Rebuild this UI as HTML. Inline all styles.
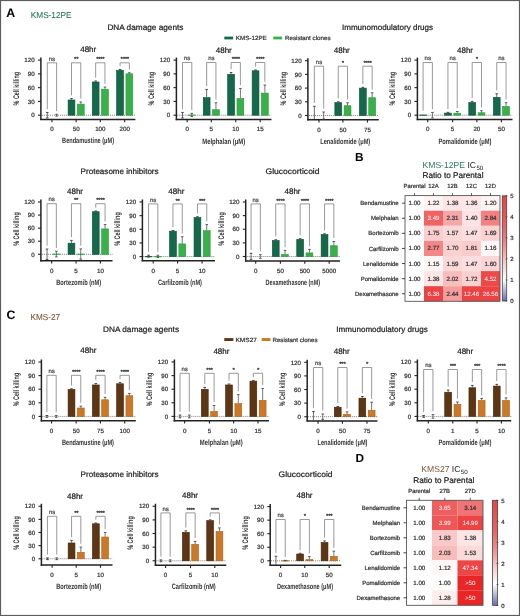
<!DOCTYPE html>
<html><head><meta charset="utf-8"><style>
html,body{margin:0;padding:0;background:#fff;}
body{width:520px;height:616px;overflow:hidden;}
svg{display:block;font-family:"Liberation Sans", sans-serif;will-change:transform;text-rendering:geometricPrecision;}
</style></head><body>
<svg width="520" height="616" viewBox="0 0 520 616">
<rect x="0" y="0" width="520" height="616" fill="#fff"/>
<line x1="40.90" y1="57.60" x2="40.90" y2="120.10" stroke="#222" stroke-width="1.5" />
<line x1="38.00" y1="115.20" x2="40.90" y2="115.20" stroke="#222" stroke-width="1.1" />
<text x="34.70" y="117.40" font-size="6.2" text-anchor="end" fill="#333" stroke="#333" stroke-width="0.22" >0</text>
<line x1="38.00" y1="101.42" x2="40.90" y2="101.42" stroke="#222" stroke-width="1.1" />
<text x="34.70" y="103.62" font-size="6.2" text-anchor="end" fill="#333" stroke="#333" stroke-width="0.22" >30</text>
<line x1="38.00" y1="87.65" x2="40.90" y2="87.65" stroke="#222" stroke-width="1.1" />
<text x="34.70" y="89.85" font-size="6.2" text-anchor="end" fill="#333" stroke="#333" stroke-width="0.22" >60</text>
<line x1="38.00" y1="73.88" x2="40.90" y2="73.88" stroke="#222" stroke-width="1.1" />
<text x="34.70" y="76.08" font-size="6.2" text-anchor="end" fill="#333" stroke="#333" stroke-width="0.22" >90</text>
<line x1="38.00" y1="60.10" x2="40.90" y2="60.10" stroke="#222" stroke-width="1.1" />
<text x="34.70" y="62.30" font-size="6.2" text-anchor="end" fill="#333" stroke="#333" stroke-width="0.22" >120</text>
<line x1="40.20" y1="119.40" x2="135.40" y2="119.40" stroke="#222" stroke-width="1.5" />
<line x1="41.90" y1="115.20" x2="135.40" y2="115.20" stroke="#333" stroke-width="0.7" stroke-dasharray="0.9 1.1"/>
<line x1="51.95" y1="119.40" x2="51.95" y2="122.20" stroke="#222" stroke-width="1.1" />
<text x="51.95" y="131.20" font-size="6.2" text-anchor="middle" fill="#333" stroke="#333" stroke-width="0.22" >0</text>
<line x1="47.30" y1="112.45" x2="47.30" y2="117.95" stroke="#3a3a3a" stroke-width="0.75" />
<line x1="46.00" y1="112.45" x2="48.60" y2="112.45" stroke="#3a3a3a" stroke-width="0.9" />
<line x1="46.00" y1="117.95" x2="48.60" y2="117.95" stroke="#3a3a3a" stroke-width="0.9" />
<line x1="56.60" y1="114.28" x2="56.60" y2="116.12" stroke="#4a4a4a" stroke-width="0.75" />
<line x1="55.30" y1="114.28" x2="57.90" y2="114.28" stroke="#4a4a4a" stroke-width="0.9" />
<line x1="55.30" y1="116.12" x2="57.90" y2="116.12" stroke="#4a4a4a" stroke-width="0.9" />
<path d="M47.30 109.15 V62.80 H56.60 V110.98" fill="none" stroke="#808080" stroke-width="0.8"/>
<text x="51.95" y="60.50" font-size="6.0" text-anchor="middle" fill="#444" stroke="#444" stroke-width="0.22" >ns</text>
<line x1="76.15" y1="119.40" x2="76.15" y2="122.20" stroke="#222" stroke-width="1.1" />
<text x="76.15" y="131.20" font-size="6.2" text-anchor="middle" fill="#333" stroke="#333" stroke-width="0.22" >50</text>
<rect x="68.10" y="99.98" width="6.80" height="15.22" fill="#15694b" stroke="#0c4c36" stroke-width="0.6"/>
<rect x="77.40" y="104.11" width="6.80" height="11.09" fill="#38b14a" stroke="#2a973a" stroke-width="0.6"/>
<line x1="71.50" y1="98.58" x2="71.50" y2="99.68" stroke="#3a3a3a" stroke-width="0.75" />
<line x1="70.20" y1="98.58" x2="72.80" y2="98.58" stroke="#3a3a3a" stroke-width="0.9" />
<line x1="80.80" y1="101.98" x2="80.80" y2="103.81" stroke="#4a4a4a" stroke-width="0.75" />
<line x1="79.50" y1="101.98" x2="82.10" y2="101.98" stroke="#4a4a4a" stroke-width="0.9" />
<path d="M71.50 95.28 V62.80 H80.80 V98.68" fill="none" stroke="#808080" stroke-width="0.8"/>
<text x="76.15" y="61.40" font-size="6.2" text-anchor="middle" fill="#333" stroke="#333" stroke-width="0.22" letter-spacing="-0.35">**</text>
<line x1="100.30" y1="119.40" x2="100.30" y2="122.20" stroke="#222" stroke-width="1.1" />
<text x="100.30" y="131.20" font-size="6.2" text-anchor="middle" fill="#333" stroke="#333" stroke-width="0.22" >100</text>
<rect x="92.25" y="81.98" width="6.80" height="33.22" fill="#15694b" stroke="#0c4c36" stroke-width="0.6"/>
<rect x="101.55" y="89.19" width="6.80" height="26.01" fill="#38b14a" stroke="#2a973a" stroke-width="0.6"/>
<line x1="95.65" y1="80.99" x2="95.65" y2="81.68" stroke="#3a3a3a" stroke-width="0.75" />
<line x1="94.35" y1="80.99" x2="96.95" y2="80.99" stroke="#3a3a3a" stroke-width="0.9" />
<line x1="104.95" y1="87.10" x2="104.95" y2="88.89" stroke="#4a4a4a" stroke-width="0.75" />
<line x1="103.65" y1="87.10" x2="106.25" y2="87.10" stroke="#4a4a4a" stroke-width="0.9" />
<path d="M95.65 77.69 V62.80 H104.95 V83.80" fill="none" stroke="#808080" stroke-width="0.8"/>
<text x="100.30" y="61.40" font-size="6.2" text-anchor="middle" fill="#333" stroke="#333" stroke-width="0.22" letter-spacing="-0.35">****</text>
<line x1="124.70" y1="119.40" x2="124.70" y2="122.20" stroke="#222" stroke-width="1.1" />
<text x="124.70" y="131.20" font-size="6.2" text-anchor="middle" fill="#333" stroke="#333" stroke-width="0.22" >200</text>
<rect x="116.65" y="70.27" width="6.80" height="44.93" fill="#15694b" stroke="#0c4c36" stroke-width="0.6"/>
<rect x="125.95" y="73.81" width="6.80" height="41.39" fill="#38b14a" stroke="#2a973a" stroke-width="0.6"/>
<line x1="120.05" y1="69.51" x2="120.05" y2="69.97" stroke="#3a3a3a" stroke-width="0.75" />
<line x1="118.75" y1="69.51" x2="121.35" y2="69.51" stroke="#3a3a3a" stroke-width="0.9" />
<line x1="129.35" y1="72.77" x2="129.35" y2="73.51" stroke="#4a4a4a" stroke-width="0.75" />
<line x1="128.05" y1="72.77" x2="130.65" y2="72.77" stroke="#4a4a4a" stroke-width="0.9" />
<path d="M120.05 66.21 V62.80 H129.35 V69.47" fill="none" stroke="#808080" stroke-width="0.8"/>
<text x="124.70" y="61.40" font-size="6.2" text-anchor="middle" fill="#333" stroke="#333" stroke-width="0.22" letter-spacing="-0.35">****</text>
<text x="88.20" y="52.30" font-size="8" text-anchor="middle" fill="#222" stroke="#222" stroke-width="0.22" >48hr</text>
<text x="88.10" y="142.60" font-size="7.8" text-anchor="middle" fill="#333" font-weight="bold" textLength="52" lengthAdjust="spacingAndGlyphs" >Bendamustine (μM)</text>
<text x="18.80" y="88.70" font-size="8.1" text-anchor="middle" fill="#333" font-weight="bold" textLength="33.5" lengthAdjust="spacingAndGlyphs" transform="rotate(-90 18.80 88.70)" >% Cell killing</text>
<line x1="176.40" y1="57.60" x2="176.40" y2="120.20" stroke="#222" stroke-width="1.5" />
<line x1="173.50" y1="115.20" x2="176.40" y2="115.20" stroke="#222" stroke-width="1.1" />
<text x="170.20" y="117.40" font-size="6.2" text-anchor="end" fill="#333" stroke="#333" stroke-width="0.22" >0</text>
<line x1="173.50" y1="101.42" x2="176.40" y2="101.42" stroke="#222" stroke-width="1.1" />
<text x="170.20" y="103.62" font-size="6.2" text-anchor="end" fill="#333" stroke="#333" stroke-width="0.22" >30</text>
<line x1="173.50" y1="87.65" x2="176.40" y2="87.65" stroke="#222" stroke-width="1.1" />
<text x="170.20" y="89.85" font-size="6.2" text-anchor="end" fill="#333" stroke="#333" stroke-width="0.22" >60</text>
<line x1="173.50" y1="73.88" x2="176.40" y2="73.88" stroke="#222" stroke-width="1.1" />
<text x="170.20" y="76.08" font-size="6.2" text-anchor="end" fill="#333" stroke="#333" stroke-width="0.22" >90</text>
<line x1="173.50" y1="60.10" x2="176.40" y2="60.10" stroke="#222" stroke-width="1.1" />
<text x="170.20" y="62.30" font-size="6.2" text-anchor="end" fill="#333" stroke="#333" stroke-width="0.22" >120</text>
<line x1="175.70" y1="119.50" x2="271.50" y2="119.50" stroke="#222" stroke-width="1.5" />
<line x1="177.40" y1="115.20" x2="271.50" y2="115.20" stroke="#333" stroke-width="0.7" stroke-dasharray="0.9 1.1"/>
<line x1="187.15" y1="119.50" x2="187.15" y2="122.30" stroke="#222" stroke-width="1.1" />
<text x="187.15" y="131.30" font-size="6.2" text-anchor="middle" fill="#333" stroke="#333" stroke-width="0.22" >0</text>
<rect x="188.10" y="114.60" width="7.40" height="1.20" fill="#38b14a" />
<line x1="182.50" y1="112.45" x2="182.50" y2="117.95" stroke="#3a3a3a" stroke-width="0.75" />
<line x1="181.20" y1="112.45" x2="183.80" y2="112.45" stroke="#3a3a3a" stroke-width="0.9" />
<line x1="181.20" y1="117.95" x2="183.80" y2="117.95" stroke="#3a3a3a" stroke-width="0.9" />
<line x1="191.80" y1="113.36" x2="191.80" y2="116.58" stroke="#4a4a4a" stroke-width="0.75" />
<line x1="190.50" y1="113.36" x2="193.10" y2="113.36" stroke="#4a4a4a" stroke-width="0.9" />
<line x1="190.50" y1="116.58" x2="193.10" y2="116.58" stroke="#4a4a4a" stroke-width="0.9" />
<path d="M182.50 109.15 V62.50 H191.80 V110.06" fill="none" stroke="#808080" stroke-width="0.8"/>
<text x="187.15" y="60.20" font-size="6.0" text-anchor="middle" fill="#444" stroke="#444" stroke-width="0.22" >ns</text>
<line x1="211.30" y1="119.50" x2="211.30" y2="122.30" stroke="#222" stroke-width="1.1" />
<text x="211.30" y="131.30" font-size="6.2" text-anchor="middle" fill="#333" stroke="#333" stroke-width="0.22" >5</text>
<rect x="203.25" y="97.68" width="6.80" height="17.52" fill="#15694b" stroke="#0c4c36" stroke-width="0.6"/>
<rect x="212.55" y="109.71" width="6.80" height="5.49" fill="#38b14a" stroke="#2a973a" stroke-width="0.6"/>
<line x1="206.65" y1="89.39" x2="206.65" y2="97.38" stroke="#3a3a3a" stroke-width="0.75" />
<line x1="205.35" y1="89.39" x2="207.95" y2="89.39" stroke="#3a3a3a" stroke-width="0.9" />
<line x1="215.95" y1="102.80" x2="215.95" y2="109.41" stroke="#4a4a4a" stroke-width="0.75" />
<line x1="214.65" y1="102.80" x2="217.25" y2="102.80" stroke="#4a4a4a" stroke-width="0.9" />
<path d="M206.65 86.09 V62.50 H215.95 V99.50" fill="none" stroke="#808080" stroke-width="0.8"/>
<text x="211.30" y="60.20" font-size="6.0" text-anchor="middle" fill="#444" stroke="#444" stroke-width="0.22" >ns</text>
<line x1="235.75" y1="119.50" x2="235.75" y2="122.30" stroke="#222" stroke-width="1.1" />
<text x="235.75" y="131.30" font-size="6.2" text-anchor="middle" fill="#333" stroke="#333" stroke-width="0.22" >10</text>
<rect x="227.70" y="74.27" width="6.80" height="40.93" fill="#15694b" stroke="#0c4c36" stroke-width="0.6"/>
<rect x="237.00" y="98.51" width="6.80" height="16.69" fill="#38b14a" stroke="#2a973a" stroke-width="0.6"/>
<line x1="231.10" y1="72.50" x2="231.10" y2="73.97" stroke="#3a3a3a" stroke-width="0.75" />
<line x1="229.80" y1="72.50" x2="232.40" y2="72.50" stroke="#3a3a3a" stroke-width="0.9" />
<line x1="240.40" y1="88.48" x2="240.40" y2="98.21" stroke="#4a4a4a" stroke-width="0.75" />
<line x1="239.10" y1="88.48" x2="241.70" y2="88.48" stroke="#4a4a4a" stroke-width="0.9" />
<path d="M231.10 69.20 V62.50 H240.40 V85.18" fill="none" stroke="#808080" stroke-width="0.8"/>
<text x="235.75" y="61.10" font-size="6.2" text-anchor="middle" fill="#333" stroke="#333" stroke-width="0.22" letter-spacing="-0.35">****</text>
<line x1="260.20" y1="119.50" x2="260.20" y2="122.30" stroke="#222" stroke-width="1.1" />
<text x="260.20" y="131.30" font-size="6.2" text-anchor="middle" fill="#333" stroke="#333" stroke-width="0.22" >15</text>
<rect x="252.15" y="70.78" width="6.80" height="44.42" fill="#15694b" stroke="#0c4c36" stroke-width="0.6"/>
<rect x="261.45" y="93.09" width="6.80" height="22.11" fill="#38b14a" stroke="#2a973a" stroke-width="0.6"/>
<line x1="255.55" y1="69.97" x2="255.55" y2="70.48" stroke="#3a3a3a" stroke-width="0.75" />
<line x1="254.25" y1="69.97" x2="256.85" y2="69.97" stroke="#3a3a3a" stroke-width="0.9" />
<line x1="264.85" y1="85.08" x2="264.85" y2="92.79" stroke="#4a4a4a" stroke-width="0.75" />
<line x1="263.55" y1="85.08" x2="266.15" y2="85.08" stroke="#4a4a4a" stroke-width="0.9" />
<path d="M255.55 66.67 V62.50 H264.85 V81.78" fill="none" stroke="#808080" stroke-width="0.8"/>
<text x="260.20" y="61.10" font-size="6.2" text-anchor="middle" fill="#333" stroke="#333" stroke-width="0.22" letter-spacing="-0.35">****</text>
<text x="223.75" y="52.60" font-size="8" text-anchor="middle" fill="#222" stroke="#222" stroke-width="0.22" >48hr</text>
<text x="223.75" y="143.60" font-size="7.8" text-anchor="middle" fill="#333" font-weight="bold" textLength="43" lengthAdjust="spacingAndGlyphs" >Melphalan (μM)</text>
<text x="154.30" y="88.70" font-size="8.1" text-anchor="middle" fill="#333" font-weight="bold" textLength="33.5" lengthAdjust="spacingAndGlyphs" transform="rotate(-90 154.30 88.70)" >% Cell killing</text>
<line x1="307.90" y1="58.20" x2="307.90" y2="120.50" stroke="#222" stroke-width="1.5" />
<line x1="305.00" y1="115.50" x2="307.90" y2="115.50" stroke="#222" stroke-width="1.1" />
<text x="301.70" y="117.70" font-size="6.2" text-anchor="end" fill="#333" stroke="#333" stroke-width="0.22" >0</text>
<line x1="305.00" y1="101.80" x2="307.90" y2="101.80" stroke="#222" stroke-width="1.1" />
<text x="301.70" y="104.00" font-size="6.2" text-anchor="end" fill="#333" stroke="#333" stroke-width="0.22" >30</text>
<line x1="305.00" y1="88.10" x2="307.90" y2="88.10" stroke="#222" stroke-width="1.1" />
<text x="301.70" y="90.30" font-size="6.2" text-anchor="end" fill="#333" stroke="#333" stroke-width="0.22" >60</text>
<line x1="305.00" y1="74.40" x2="307.90" y2="74.40" stroke="#222" stroke-width="1.1" />
<text x="301.70" y="76.60" font-size="6.2" text-anchor="end" fill="#333" stroke="#333" stroke-width="0.22" >90</text>
<line x1="305.00" y1="60.70" x2="307.90" y2="60.70" stroke="#222" stroke-width="1.1" />
<text x="301.70" y="62.90" font-size="6.2" text-anchor="end" fill="#333" stroke="#333" stroke-width="0.22" >120</text>
<line x1="307.20" y1="119.80" x2="378.75" y2="119.80" stroke="#222" stroke-width="1.5" />
<line x1="308.90" y1="115.50" x2="378.75" y2="115.50" stroke="#333" stroke-width="0.7" stroke-dasharray="0.9 1.1"/>
<line x1="319.00" y1="119.80" x2="319.00" y2="122.60" stroke="#222" stroke-width="1.1" />
<text x="319.00" y="131.60" font-size="6.2" text-anchor="middle" fill="#333" stroke="#333" stroke-width="0.22" >0</text>
<line x1="314.35" y1="106.32" x2="314.35" y2="119.20" stroke="#3a3a3a" stroke-width="0.75" />
<line x1="313.05" y1="106.32" x2="315.65" y2="106.32" stroke="#3a3a3a" stroke-width="0.9" />
<line x1="323.65" y1="111.98" x2="323.65" y2="119.02" stroke="#4a4a4a" stroke-width="0.75" />
<line x1="322.35" y1="111.98" x2="324.95" y2="111.98" stroke="#4a4a4a" stroke-width="0.9" />
<line x1="322.35" y1="119.02" x2="324.95" y2="119.02" stroke="#4a4a4a" stroke-width="0.9" />
<path d="M314.35 103.02 V66.20 H323.65 V108.68" fill="none" stroke="#808080" stroke-width="0.8"/>
<text x="319.00" y="63.90" font-size="6.0" text-anchor="middle" fill="#444" stroke="#444" stroke-width="0.22" >ns</text>
<line x1="342.90" y1="119.80" x2="342.90" y2="122.60" stroke="#222" stroke-width="1.1" />
<text x="342.90" y="131.60" font-size="6.2" text-anchor="middle" fill="#333" stroke="#333" stroke-width="0.22" >50</text>
<rect x="334.85" y="102.60" width="6.80" height="12.90" fill="#15694b" stroke="#0c4c36" stroke-width="0.6"/>
<rect x="344.15" y="105.71" width="6.80" height="9.79" fill="#38b14a" stroke="#2a973a" stroke-width="0.6"/>
<line x1="338.25" y1="101.80" x2="338.25" y2="102.30" stroke="#3a3a3a" stroke-width="0.75" />
<line x1="336.95" y1="101.80" x2="339.55" y2="101.80" stroke="#3a3a3a" stroke-width="0.9" />
<line x1="347.55" y1="102.80" x2="347.55" y2="105.41" stroke="#4a4a4a" stroke-width="0.75" />
<line x1="346.25" y1="102.80" x2="348.85" y2="102.80" stroke="#4a4a4a" stroke-width="0.9" />
<path d="M338.25 98.50 V66.20 H347.55 V99.50" fill="none" stroke="#808080" stroke-width="0.8"/>
<text x="342.90" y="64.80" font-size="6.2" text-anchor="middle" fill="#333" stroke="#333" stroke-width="0.22" letter-spacing="-0.35">*</text>
<line x1="367.50" y1="119.80" x2="367.50" y2="122.60" stroke="#222" stroke-width="1.1" />
<text x="367.50" y="131.60" font-size="6.2" text-anchor="middle" fill="#333" stroke="#333" stroke-width="0.22" >75</text>
<rect x="359.45" y="88.13" width="6.80" height="27.37" fill="#15694b" stroke="#0c4c36" stroke-width="0.6"/>
<rect x="368.75" y="97.72" width="6.80" height="17.78" fill="#38b14a" stroke="#2a973a" stroke-width="0.6"/>
<line x1="362.85" y1="87.37" x2="362.85" y2="87.83" stroke="#3a3a3a" stroke-width="0.75" />
<line x1="361.55" y1="87.37" x2="364.15" y2="87.37" stroke="#3a3a3a" stroke-width="0.9" />
<line x1="372.15" y1="92.80" x2="372.15" y2="97.42" stroke="#4a4a4a" stroke-width="0.75" />
<line x1="370.85" y1="92.80" x2="373.45" y2="92.80" stroke="#4a4a4a" stroke-width="0.9" />
<path d="M362.85 84.07 V66.20 H372.15 V89.50" fill="none" stroke="#808080" stroke-width="0.8"/>
<text x="367.50" y="64.80" font-size="6.2" text-anchor="middle" fill="#333" stroke="#333" stroke-width="0.22" letter-spacing="-0.35">****</text>
<text x="341.75" y="52.60" font-size="8" text-anchor="middle" fill="#222" stroke="#222" stroke-width="0.22" >48hr</text>
<text x="345.25" y="143.80" font-size="7.8" text-anchor="middle" fill="#333" font-weight="bold" textLength="50" lengthAdjust="spacingAndGlyphs" >Lenalidomide (μM)</text>
<text x="285.80" y="88.70" font-size="8.1" text-anchor="middle" fill="#333" font-weight="bold" textLength="33.5" lengthAdjust="spacingAndGlyphs" transform="rotate(-90 285.80 88.70)" >% Cell killing</text>
<line x1="417.40" y1="57.60" x2="417.40" y2="120.20" stroke="#222" stroke-width="1.5" />
<line x1="414.50" y1="115.20" x2="417.40" y2="115.20" stroke="#222" stroke-width="1.1" />
<text x="411.20" y="117.40" font-size="6.2" text-anchor="end" fill="#333" stroke="#333" stroke-width="0.22" >0</text>
<line x1="414.50" y1="101.42" x2="417.40" y2="101.42" stroke="#222" stroke-width="1.1" />
<text x="411.20" y="103.62" font-size="6.2" text-anchor="end" fill="#333" stroke="#333" stroke-width="0.22" >30</text>
<line x1="414.50" y1="87.65" x2="417.40" y2="87.65" stroke="#222" stroke-width="1.1" />
<text x="411.20" y="89.85" font-size="6.2" text-anchor="end" fill="#333" stroke="#333" stroke-width="0.22" >60</text>
<line x1="414.50" y1="73.88" x2="417.40" y2="73.88" stroke="#222" stroke-width="1.1" />
<text x="411.20" y="76.08" font-size="6.2" text-anchor="end" fill="#333" stroke="#333" stroke-width="0.22" >90</text>
<line x1="414.50" y1="60.10" x2="417.40" y2="60.10" stroke="#222" stroke-width="1.1" />
<text x="411.20" y="62.30" font-size="6.2" text-anchor="end" fill="#333" stroke="#333" stroke-width="0.22" >120</text>
<line x1="416.70" y1="119.50" x2="512.50" y2="119.50" stroke="#222" stroke-width="1.5" />
<line x1="418.40" y1="115.20" x2="512.50" y2="115.20" stroke="#333" stroke-width="0.7" stroke-dasharray="0.9 1.1"/>
<line x1="427.75" y1="119.50" x2="427.75" y2="122.30" stroke="#222" stroke-width="1.1" />
<text x="427.75" y="131.30" font-size="6.2" text-anchor="middle" fill="#333" stroke="#333" stroke-width="0.22" >0</text>
<rect x="419.40" y="114.60" width="7.40" height="1.20" fill="#15694b" />
<line x1="432.40" y1="112.45" x2="432.40" y2="117.95" stroke="#4a4a4a" stroke-width="0.75" />
<line x1="431.10" y1="112.45" x2="433.70" y2="112.45" stroke="#4a4a4a" stroke-width="0.9" />
<line x1="431.10" y1="117.95" x2="433.70" y2="117.95" stroke="#4a4a4a" stroke-width="0.9" />
<path d="M423.10 110.75 V62.50 H432.40 V109.15" fill="none" stroke="#808080" stroke-width="0.8"/>
<text x="427.75" y="60.20" font-size="6.0" text-anchor="middle" fill="#444" stroke="#444" stroke-width="0.22" >ns</text>
<line x1="452.60" y1="119.50" x2="452.60" y2="122.30" stroke="#222" stroke-width="1.1" />
<text x="452.60" y="131.30" font-size="6.2" text-anchor="middle" fill="#333" stroke="#333" stroke-width="0.22" >5</text>
<rect x="444.55" y="113.11" width="6.80" height="2.09" fill="#15694b" stroke="#0c4c36" stroke-width="0.6"/>
<rect x="453.85" y="113.20" width="6.80" height="2.00" fill="#38b14a" stroke="#2a973a" stroke-width="0.6"/>
<line x1="447.95" y1="112.35" x2="447.95" y2="112.81" stroke="#3a3a3a" stroke-width="0.75" />
<line x1="446.65" y1="112.35" x2="449.25" y2="112.35" stroke="#3a3a3a" stroke-width="0.9" />
<line x1="457.25" y1="111.53" x2="457.25" y2="112.90" stroke="#4a4a4a" stroke-width="0.75" />
<line x1="455.95" y1="111.53" x2="458.55" y2="111.53" stroke="#4a4a4a" stroke-width="0.9" />
<path d="M447.95 109.05 V62.50 H457.25 V108.23" fill="none" stroke="#808080" stroke-width="0.8"/>
<text x="452.60" y="60.20" font-size="6.0" text-anchor="middle" fill="#444" stroke="#444" stroke-width="0.22" >ns</text>
<line x1="476.85" y1="119.50" x2="476.85" y2="122.30" stroke="#222" stroke-width="1.1" />
<text x="476.85" y="131.30" font-size="6.2" text-anchor="middle" fill="#333" stroke="#333" stroke-width="0.22" >20</text>
<rect x="468.80" y="102.51" width="6.80" height="12.69" fill="#15694b" stroke="#0c4c36" stroke-width="0.6"/>
<rect x="478.10" y="112.75" width="6.80" height="2.45" fill="#38b14a" stroke="#2a973a" stroke-width="0.6"/>
<line x1="472.20" y1="101.33" x2="472.20" y2="102.21" stroke="#3a3a3a" stroke-width="0.75" />
<line x1="470.90" y1="101.33" x2="473.50" y2="101.33" stroke="#3a3a3a" stroke-width="0.9" />
<line x1="481.50" y1="110.70" x2="481.50" y2="112.45" stroke="#4a4a4a" stroke-width="0.75" />
<line x1="480.20" y1="110.70" x2="482.80" y2="110.70" stroke="#4a4a4a" stroke-width="0.9" />
<path d="M472.20 98.03 V62.50 H481.50 V107.40" fill="none" stroke="#808080" stroke-width="0.8"/>
<text x="476.85" y="61.10" font-size="6.2" text-anchor="middle" fill="#333" stroke="#333" stroke-width="0.22" letter-spacing="-0.35">*</text>
<line x1="501.40" y1="119.50" x2="501.40" y2="122.30" stroke="#222" stroke-width="1.1" />
<text x="501.40" y="131.30" font-size="6.2" text-anchor="middle" fill="#333" stroke="#333" stroke-width="0.22" >50</text>
<rect x="493.35" y="97.32" width="6.80" height="17.88" fill="#15694b" stroke="#0c4c36" stroke-width="0.6"/>
<rect x="502.65" y="106.50" width="6.80" height="8.70" fill="#38b14a" stroke="#2a973a" stroke-width="0.6"/>
<line x1="496.75" y1="93.80" x2="496.75" y2="97.02" stroke="#3a3a3a" stroke-width="0.75" />
<line x1="495.45" y1="93.80" x2="498.05" y2="93.80" stroke="#3a3a3a" stroke-width="0.9" />
<line x1="506.05" y1="102.71" x2="506.05" y2="106.20" stroke="#4a4a4a" stroke-width="0.75" />
<line x1="504.75" y1="102.71" x2="507.35" y2="102.71" stroke="#4a4a4a" stroke-width="0.9" />
<path d="M496.75 90.50 V62.50 H506.05 V99.41" fill="none" stroke="#808080" stroke-width="0.8"/>
<text x="501.40" y="60.20" font-size="6.0" text-anchor="middle" fill="#444" stroke="#444" stroke-width="0.22" >ns</text>
<text x="465.00" y="52.60" font-size="8" text-anchor="middle" fill="#222" stroke="#222" stroke-width="0.22" >48hr</text>
<text x="465.00" y="143.60" font-size="7.8" text-anchor="middle" fill="#333" font-weight="bold" textLength="53" lengthAdjust="spacingAndGlyphs" >Pomalidomide (μM)</text>
<text x="395.30" y="88.70" font-size="8.1" text-anchor="middle" fill="#333" font-weight="bold" textLength="33.5" lengthAdjust="spacingAndGlyphs" transform="rotate(-90 395.30 88.70)" >% Cell killing</text>
<line x1="40.90" y1="199.50" x2="40.90" y2="261.40" stroke="#222" stroke-width="1.5" />
<line x1="38.00" y1="254.30" x2="40.90" y2="254.30" stroke="#222" stroke-width="1.1" />
<text x="34.70" y="256.50" font-size="6.2" text-anchor="end" fill="#333" stroke="#333" stroke-width="0.22" >0</text>
<line x1="38.00" y1="241.23" x2="40.90" y2="241.23" stroke="#222" stroke-width="1.1" />
<text x="34.70" y="243.43" font-size="6.2" text-anchor="end" fill="#333" stroke="#333" stroke-width="0.22" >30</text>
<line x1="38.00" y1="228.15" x2="40.90" y2="228.15" stroke="#222" stroke-width="1.1" />
<text x="34.70" y="230.35" font-size="6.2" text-anchor="end" fill="#333" stroke="#333" stroke-width="0.22" >60</text>
<line x1="38.00" y1="215.07" x2="40.90" y2="215.07" stroke="#222" stroke-width="1.1" />
<text x="34.70" y="217.27" font-size="6.2" text-anchor="end" fill="#333" stroke="#333" stroke-width="0.22" >90</text>
<line x1="38.00" y1="202.00" x2="40.90" y2="202.00" stroke="#222" stroke-width="1.1" />
<text x="34.70" y="204.20" font-size="6.2" text-anchor="end" fill="#333" stroke="#333" stroke-width="0.22" >120</text>
<line x1="40.20" y1="260.70" x2="112.50" y2="260.70" stroke="#222" stroke-width="1.5" />
<line x1="41.90" y1="254.30" x2="112.50" y2="254.30" stroke="#333" stroke-width="0.7" stroke-dasharray="0.9 1.1"/>
<line x1="51.70" y1="260.70" x2="51.70" y2="263.50" stroke="#222" stroke-width="1.1" />
<text x="51.70" y="272.50" font-size="6.2" text-anchor="middle" fill="#333" stroke="#333" stroke-width="0.22" >0</text>
<rect x="52.65" y="253.70" width="7.40" height="1.20" fill="#38b14a" />
<line x1="47.05" y1="249.07" x2="47.05" y2="259.53" stroke="#3a3a3a" stroke-width="0.75" />
<line x1="45.75" y1="249.07" x2="48.35" y2="249.07" stroke="#3a3a3a" stroke-width="0.9" />
<line x1="45.75" y1="259.53" x2="48.35" y2="259.53" stroke="#3a3a3a" stroke-width="0.9" />
<line x1="56.35" y1="251.25" x2="56.35" y2="256.83" stroke="#4a4a4a" stroke-width="0.75" />
<line x1="55.05" y1="251.25" x2="57.65" y2="251.25" stroke="#4a4a4a" stroke-width="0.9" />
<line x1="55.05" y1="256.83" x2="57.65" y2="256.83" stroke="#4a4a4a" stroke-width="0.9" />
<path d="M47.05 245.77 V203.70 H56.35 V247.95" fill="none" stroke="#808080" stroke-width="0.8"/>
<text x="51.70" y="201.40" font-size="6.0" text-anchor="middle" fill="#444" stroke="#444" stroke-width="0.22" >ns</text>
<line x1="76.10" y1="260.70" x2="76.10" y2="263.50" stroke="#222" stroke-width="1.1" />
<text x="76.10" y="272.50" font-size="6.2" text-anchor="middle" fill="#333" stroke="#333" stroke-width="0.22" >5</text>
<rect x="68.05" y="243.18" width="6.80" height="11.12" fill="#15694b" stroke="#0c4c36" stroke-width="0.6"/>
<rect x="77.05" y="253.70" width="7.40" height="1.20" fill="#38b14a" />
<line x1="71.45" y1="240.40" x2="71.45" y2="242.88" stroke="#3a3a3a" stroke-width="0.75" />
<line x1="70.15" y1="240.40" x2="72.75" y2="240.40" stroke="#3a3a3a" stroke-width="0.9" />
<line x1="80.75" y1="248.90" x2="80.75" y2="259.18" stroke="#4a4a4a" stroke-width="0.75" />
<line x1="79.45" y1="248.90" x2="82.05" y2="248.90" stroke="#4a4a4a" stroke-width="0.9" />
<line x1="79.45" y1="259.18" x2="82.05" y2="259.18" stroke="#4a4a4a" stroke-width="0.9" />
<path d="M71.45 237.10 V203.70 H80.75 V245.60" fill="none" stroke="#808080" stroke-width="0.8"/>
<text x="76.10" y="202.30" font-size="6.2" text-anchor="middle" fill="#333" stroke="#333" stroke-width="0.22" letter-spacing="-0.35">**</text>
<line x1="100.40" y1="260.70" x2="100.40" y2="263.50" stroke="#222" stroke-width="1.1" />
<text x="100.40" y="272.50" font-size="6.2" text-anchor="middle" fill="#333" stroke="#333" stroke-width="0.22" >10</text>
<rect x="92.35" y="211.71" width="6.80" height="42.59" fill="#15694b" stroke="#0c4c36" stroke-width="0.6"/>
<rect x="101.65" y="228.89" width="6.80" height="25.41" fill="#38b14a" stroke="#2a973a" stroke-width="0.6"/>
<line x1="95.75" y1="210.98" x2="95.75" y2="211.41" stroke="#3a3a3a" stroke-width="0.75" />
<line x1="94.45" y1="210.98" x2="97.05" y2="210.98" stroke="#3a3a3a" stroke-width="0.9" />
<line x1="105.05" y1="224.58" x2="105.05" y2="228.59" stroke="#4a4a4a" stroke-width="0.75" />
<line x1="103.75" y1="224.58" x2="106.35" y2="224.58" stroke="#4a4a4a" stroke-width="0.9" />
<path d="M95.75 207.68 V203.70 H105.05 V221.28" fill="none" stroke="#808080" stroke-width="0.8"/>
<text x="100.40" y="202.30" font-size="6.2" text-anchor="middle" fill="#333" stroke="#333" stroke-width="0.22" letter-spacing="-0.35">****</text>
<text x="75.00" y="193.50" font-size="8" text-anchor="middle" fill="#222" stroke="#222" stroke-width="0.22" >48hr</text>
<text x="78.75" y="284.50" font-size="7.8" text-anchor="middle" fill="#333" font-weight="bold" textLength="45" lengthAdjust="spacingAndGlyphs" >Bortezomib (nM)</text>
<text x="18.80" y="229.00" font-size="8.1" text-anchor="middle" fill="#333" font-weight="bold" textLength="33.5" lengthAdjust="spacingAndGlyphs" transform="rotate(-90 18.80 229.00)" >% Cell killing</text>
<line x1="142.40" y1="199.50" x2="142.40" y2="261.40" stroke="#222" stroke-width="1.5" />
<line x1="139.50" y1="256.60" x2="142.40" y2="256.60" stroke="#222" stroke-width="1.1" />
<text x="136.20" y="258.80" font-size="6.2" text-anchor="end" fill="#333" stroke="#333" stroke-width="0.22" >0</text>
<line x1="139.50" y1="242.95" x2="142.40" y2="242.95" stroke="#222" stroke-width="1.1" />
<text x="136.20" y="245.15" font-size="6.2" text-anchor="end" fill="#333" stroke="#333" stroke-width="0.22" >30</text>
<line x1="139.50" y1="229.30" x2="142.40" y2="229.30" stroke="#222" stroke-width="1.1" />
<text x="136.20" y="231.50" font-size="6.2" text-anchor="end" fill="#333" stroke="#333" stroke-width="0.22" >60</text>
<line x1="139.50" y1="215.65" x2="142.40" y2="215.65" stroke="#222" stroke-width="1.1" />
<text x="136.20" y="217.85" font-size="6.2" text-anchor="end" fill="#333" stroke="#333" stroke-width="0.22" >90</text>
<line x1="139.50" y1="202.00" x2="142.40" y2="202.00" stroke="#222" stroke-width="1.1" />
<text x="136.20" y="204.20" font-size="6.2" text-anchor="end" fill="#333" stroke="#333" stroke-width="0.22" >120</text>
<line x1="141.70" y1="260.70" x2="215.00" y2="260.70" stroke="#222" stroke-width="1.5" />
<line x1="143.40" y1="256.60" x2="215.00" y2="256.60" stroke="#333" stroke-width="0.7" stroke-dasharray="0.9 1.1"/>
<line x1="153.20" y1="260.70" x2="153.20" y2="263.50" stroke="#222" stroke-width="1.1" />
<text x="153.20" y="272.50" font-size="6.2" text-anchor="middle" fill="#333" stroke="#333" stroke-width="0.22" >0</text>
<rect x="144.85" y="256.00" width="7.40" height="1.20" fill="#15694b" />
<rect x="154.15" y="256.00" width="7.40" height="1.20" fill="#38b14a" />
<line x1="148.55" y1="255.24" x2="148.55" y2="257.06" stroke="#3a3a3a" stroke-width="0.75" />
<line x1="147.25" y1="255.24" x2="149.85" y2="255.24" stroke="#3a3a3a" stroke-width="0.9" />
<line x1="147.25" y1="257.06" x2="149.85" y2="257.06" stroke="#3a3a3a" stroke-width="0.9" />
<line x1="157.85" y1="255.24" x2="157.85" y2="257.42" stroke="#4a4a4a" stroke-width="0.75" />
<line x1="156.55" y1="255.24" x2="159.15" y2="255.24" stroke="#4a4a4a" stroke-width="0.9" />
<line x1="156.55" y1="257.42" x2="159.15" y2="257.42" stroke="#4a4a4a" stroke-width="0.9" />
<path d="M148.55 251.94 V203.90 H157.85 V251.94" fill="none" stroke="#808080" stroke-width="0.8"/>
<text x="153.20" y="201.60" font-size="6.0" text-anchor="middle" fill="#444" stroke="#444" stroke-width="0.22" >ns</text>
<line x1="177.60" y1="260.70" x2="177.60" y2="263.50" stroke="#222" stroke-width="1.1" />
<text x="177.60" y="272.50" font-size="6.2" text-anchor="middle" fill="#333" stroke="#333" stroke-width="0.22" >5</text>
<rect x="169.55" y="231.19" width="6.80" height="25.41" fill="#15694b" stroke="#0c4c36" stroke-width="0.6"/>
<rect x="178.85" y="243.89" width="6.80" height="12.71" fill="#38b14a" stroke="#2a973a" stroke-width="0.6"/>
<line x1="172.95" y1="230.44" x2="172.95" y2="230.89" stroke="#3a3a3a" stroke-width="0.75" />
<line x1="171.65" y1="230.44" x2="174.25" y2="230.44" stroke="#3a3a3a" stroke-width="0.9" />
<line x1="182.25" y1="236.72" x2="182.25" y2="243.59" stroke="#4a4a4a" stroke-width="0.75" />
<line x1="180.95" y1="236.72" x2="183.55" y2="236.72" stroke="#4a4a4a" stroke-width="0.9" />
<path d="M172.95 227.14 V203.90 H182.25 V233.42" fill="none" stroke="#808080" stroke-width="0.8"/>
<text x="177.60" y="202.50" font-size="6.2" text-anchor="middle" fill="#333" stroke="#333" stroke-width="0.22" letter-spacing="-0.35">**</text>
<line x1="202.10" y1="260.70" x2="202.10" y2="263.50" stroke="#222" stroke-width="1.1" />
<text x="202.10" y="272.50" font-size="6.2" text-anchor="middle" fill="#333" stroke="#333" stroke-width="0.22" >10</text>
<rect x="194.05" y="217.50" width="6.80" height="39.10" fill="#15694b" stroke="#0c4c36" stroke-width="0.6"/>
<rect x="203.35" y="230.69" width="6.80" height="25.91" fill="#38b14a" stroke="#2a973a" stroke-width="0.6"/>
<line x1="197.45" y1="216.74" x2="197.45" y2="217.20" stroke="#3a3a3a" stroke-width="0.75" />
<line x1="196.15" y1="216.74" x2="198.75" y2="216.74" stroke="#3a3a3a" stroke-width="0.9" />
<line x1="206.75" y1="224.61" x2="206.75" y2="230.39" stroke="#4a4a4a" stroke-width="0.75" />
<line x1="205.45" y1="224.61" x2="208.05" y2="224.61" stroke="#4a4a4a" stroke-width="0.9" />
<path d="M197.45 213.44 V203.90 H206.75 V221.31" fill="none" stroke="#808080" stroke-width="0.8"/>
<text x="202.10" y="202.50" font-size="6.2" text-anchor="middle" fill="#333" stroke="#333" stroke-width="0.22" letter-spacing="-0.35">***</text>
<text x="176.30" y="194.00" font-size="8" text-anchor="middle" fill="#222" stroke="#222" stroke-width="0.22" >48hr</text>
<text x="180.00" y="284.50" font-size="7.8" text-anchor="middle" fill="#333" font-weight="bold" textLength="44" lengthAdjust="spacingAndGlyphs" >Carfilzomib (nM)</text>
<text x="120.30" y="229.00" font-size="8.1" text-anchor="middle" fill="#333" font-weight="bold" textLength="33.5" lengthAdjust="spacingAndGlyphs" transform="rotate(-90 120.30 229.00)" >% Cell killing</text>
<line x1="245.70" y1="199.50" x2="245.70" y2="261.60" stroke="#222" stroke-width="1.5" />
<line x1="242.80" y1="256.50" x2="245.70" y2="256.50" stroke="#222" stroke-width="1.1" />
<text x="239.50" y="258.70" font-size="6.2" text-anchor="end" fill="#333" stroke="#333" stroke-width="0.22" >0</text>
<line x1="242.80" y1="242.88" x2="245.70" y2="242.88" stroke="#222" stroke-width="1.1" />
<text x="239.50" y="245.07" font-size="6.2" text-anchor="end" fill="#333" stroke="#333" stroke-width="0.22" >30</text>
<line x1="242.80" y1="229.25" x2="245.70" y2="229.25" stroke="#222" stroke-width="1.1" />
<text x="239.50" y="231.45" font-size="6.2" text-anchor="end" fill="#333" stroke="#333" stroke-width="0.22" >60</text>
<line x1="242.80" y1="215.62" x2="245.70" y2="215.62" stroke="#222" stroke-width="1.1" />
<text x="239.50" y="217.82" font-size="6.2" text-anchor="end" fill="#333" stroke="#333" stroke-width="0.22" >90</text>
<line x1="242.80" y1="202.00" x2="245.70" y2="202.00" stroke="#222" stroke-width="1.1" />
<text x="239.50" y="204.20" font-size="6.2" text-anchor="end" fill="#333" stroke="#333" stroke-width="0.22" >120</text>
<line x1="245.00" y1="260.90" x2="340.00" y2="260.90" stroke="#222" stroke-width="1.5" />
<line x1="246.70" y1="256.50" x2="340.00" y2="256.50" stroke="#333" stroke-width="0.7" stroke-dasharray="0.9 1.1"/>
<line x1="255.70" y1="260.90" x2="255.70" y2="263.70" stroke="#222" stroke-width="1.1" />
<text x="255.70" y="272.70" font-size="6.2" text-anchor="middle" fill="#333" stroke="#333" stroke-width="0.22" >0</text>
<line x1="251.05" y1="253.32" x2="251.05" y2="259.68" stroke="#3a3a3a" stroke-width="0.75" />
<line x1="249.75" y1="253.32" x2="252.35" y2="253.32" stroke="#3a3a3a" stroke-width="0.9" />
<line x1="249.75" y1="259.68" x2="252.35" y2="259.68" stroke="#3a3a3a" stroke-width="0.9" />
<line x1="260.35" y1="254.68" x2="260.35" y2="258.32" stroke="#4a4a4a" stroke-width="0.75" />
<line x1="259.05" y1="254.68" x2="261.65" y2="254.68" stroke="#4a4a4a" stroke-width="0.9" />
<line x1="259.05" y1="258.32" x2="261.65" y2="258.32" stroke="#4a4a4a" stroke-width="0.9" />
<path d="M251.05 250.02 V203.90 H260.35 V251.38" fill="none" stroke="#808080" stroke-width="0.8"/>
<text x="255.70" y="201.60" font-size="6.0" text-anchor="middle" fill="#444" stroke="#444" stroke-width="0.22" >ns</text>
<line x1="280.40" y1="260.90" x2="280.40" y2="263.70" stroke="#222" stroke-width="1.1" />
<text x="280.40" y="272.70" font-size="6.2" text-anchor="middle" fill="#333" stroke="#333" stroke-width="0.22" >50</text>
<rect x="272.35" y="240.50" width="6.80" height="16.00" fill="#15694b" stroke="#0c4c36" stroke-width="0.6"/>
<rect x="281.65" y="254.53" width="6.80" height="1.97" fill="#38b14a" stroke="#2a973a" stroke-width="0.6"/>
<line x1="275.75" y1="239.74" x2="275.75" y2="240.20" stroke="#3a3a3a" stroke-width="0.75" />
<line x1="274.45" y1="239.74" x2="277.05" y2="239.74" stroke="#3a3a3a" stroke-width="0.9" />
<line x1="285.05" y1="250.41" x2="285.05" y2="254.23" stroke="#4a4a4a" stroke-width="0.75" />
<line x1="283.75" y1="250.41" x2="286.35" y2="250.41" stroke="#4a4a4a" stroke-width="0.9" />
<path d="M275.75 236.44 V203.90 H285.05 V247.11" fill="none" stroke="#808080" stroke-width="0.8"/>
<text x="280.40" y="202.50" font-size="6.2" text-anchor="middle" fill="#333" stroke="#333" stroke-width="0.22" letter-spacing="-0.35">****</text>
<line x1="304.80" y1="260.90" x2="304.80" y2="263.70" stroke="#222" stroke-width="1.1" />
<text x="304.80" y="272.70" font-size="6.2" text-anchor="middle" fill="#333" stroke="#333" stroke-width="0.22" >500</text>
<rect x="296.75" y="239.41" width="6.80" height="17.09" fill="#15694b" stroke="#0c4c36" stroke-width="0.6"/>
<rect x="306.05" y="252.89" width="6.80" height="3.61" fill="#38b14a" stroke="#2a973a" stroke-width="0.6"/>
<line x1="300.15" y1="238.65" x2="300.15" y2="239.11" stroke="#3a3a3a" stroke-width="0.75" />
<line x1="298.85" y1="238.65" x2="301.45" y2="238.65" stroke="#3a3a3a" stroke-width="0.9" />
<line x1="309.45" y1="249.41" x2="309.45" y2="252.59" stroke="#4a4a4a" stroke-width="0.75" />
<line x1="308.15" y1="249.41" x2="310.75" y2="249.41" stroke="#4a4a4a" stroke-width="0.9" />
<path d="M300.15 235.35 V203.90 H309.45 V246.11" fill="none" stroke="#808080" stroke-width="0.8"/>
<text x="304.80" y="202.50" font-size="6.2" text-anchor="middle" fill="#333" stroke="#333" stroke-width="0.22" letter-spacing="-0.35">****</text>
<line x1="329.20" y1="260.90" x2="329.20" y2="263.70" stroke="#222" stroke-width="1.1" />
<text x="329.20" y="272.70" font-size="6.2" text-anchor="middle" fill="#333" stroke="#333" stroke-width="0.22" >5000</text>
<rect x="321.15" y="234.55" width="6.80" height="21.95" fill="#15694b" stroke="#0c4c36" stroke-width="0.6"/>
<rect x="330.45" y="245.72" width="6.80" height="10.78" fill="#38b14a" stroke="#2a973a" stroke-width="0.6"/>
<line x1="324.55" y1="233.79" x2="324.55" y2="234.25" stroke="#3a3a3a" stroke-width="0.75" />
<line x1="323.25" y1="233.79" x2="325.85" y2="233.79" stroke="#3a3a3a" stroke-width="0.9" />
<line x1="333.85" y1="241.51" x2="333.85" y2="245.42" stroke="#4a4a4a" stroke-width="0.75" />
<line x1="332.55" y1="241.51" x2="335.15" y2="241.51" stroke="#4a4a4a" stroke-width="0.9" />
<path d="M324.55 230.49 V203.90 H333.85 V238.21" fill="none" stroke="#808080" stroke-width="0.8"/>
<text x="329.20" y="202.50" font-size="6.2" text-anchor="middle" fill="#333" stroke="#333" stroke-width="0.22" letter-spacing="-0.35">****</text>
<text x="292.50" y="194.00" font-size="8" text-anchor="middle" fill="#222" stroke="#222" stroke-width="0.22" >48hr</text>
<text x="292.75" y="284.50" font-size="7.8" text-anchor="middle" fill="#333" font-weight="bold" textLength="54.5" lengthAdjust="spacingAndGlyphs" >Dexamethasone (nM)</text>
<text x="223.60" y="229.00" font-size="8.1" text-anchor="middle" fill="#333" font-weight="bold" textLength="33.5" lengthAdjust="spacingAndGlyphs" transform="rotate(-90 223.60 229.00)" >% Cell killing</text>
<line x1="41.40" y1="359.50" x2="41.40" y2="421.50" stroke="#222" stroke-width="1.5" />
<line x1="38.50" y1="416.40" x2="41.40" y2="416.40" stroke="#222" stroke-width="1.1" />
<text x="35.20" y="418.60" font-size="6.2" text-anchor="end" fill="#333" stroke="#333" stroke-width="0.22" >0</text>
<line x1="38.50" y1="402.80" x2="41.40" y2="402.80" stroke="#222" stroke-width="1.1" />
<text x="35.20" y="405.00" font-size="6.2" text-anchor="end" fill="#333" stroke="#333" stroke-width="0.22" >30</text>
<line x1="38.50" y1="389.20" x2="41.40" y2="389.20" stroke="#222" stroke-width="1.1" />
<text x="35.20" y="391.40" font-size="6.2" text-anchor="end" fill="#333" stroke="#333" stroke-width="0.22" >60</text>
<line x1="38.50" y1="375.60" x2="41.40" y2="375.60" stroke="#222" stroke-width="1.1" />
<text x="35.20" y="377.80" font-size="6.2" text-anchor="end" fill="#333" stroke="#333" stroke-width="0.22" >90</text>
<line x1="38.50" y1="362.00" x2="41.40" y2="362.00" stroke="#222" stroke-width="1.1" />
<text x="35.20" y="364.20" font-size="6.2" text-anchor="end" fill="#333" stroke="#333" stroke-width="0.22" >120</text>
<line x1="40.70" y1="420.80" x2="135.80" y2="420.80" stroke="#222" stroke-width="1.5" />
<line x1="42.40" y1="416.40" x2="135.80" y2="416.40" stroke="#333" stroke-width="0.7" stroke-dasharray="0.9 1.1"/>
<line x1="51.55" y1="420.80" x2="51.55" y2="423.60" stroke="#222" stroke-width="1.1" />
<text x="51.55" y="432.60" font-size="6.2" text-anchor="middle" fill="#333" stroke="#333" stroke-width="0.22" >0</text>
<line x1="46.90" y1="415.49" x2="46.90" y2="417.31" stroke="#3a3a3a" stroke-width="0.75" />
<line x1="45.60" y1="415.49" x2="48.20" y2="415.49" stroke="#3a3a3a" stroke-width="0.9" />
<line x1="45.60" y1="417.31" x2="48.20" y2="417.31" stroke="#3a3a3a" stroke-width="0.9" />
<line x1="56.20" y1="415.49" x2="56.20" y2="417.31" stroke="#4a4a4a" stroke-width="0.75" />
<line x1="54.90" y1="415.49" x2="57.50" y2="415.49" stroke="#4a4a4a" stroke-width="0.9" />
<line x1="54.90" y1="417.31" x2="57.50" y2="417.31" stroke="#4a4a4a" stroke-width="0.9" />
<path d="M46.90 412.19 V375.30 H56.20 V412.19" fill="none" stroke="#808080" stroke-width="0.8"/>
<text x="51.55" y="373.00" font-size="6.0" text-anchor="middle" fill="#444" stroke="#444" stroke-width="0.22" >ns</text>
<line x1="76.15" y1="420.80" x2="76.15" y2="423.60" stroke="#222" stroke-width="1.1" />
<text x="76.15" y="432.60" font-size="6.2" text-anchor="middle" fill="#333" stroke="#333" stroke-width="0.22" >50</text>
<rect x="68.10" y="389.50" width="6.80" height="26.90" fill="#5e3614" stroke="#3c2009" stroke-width="0.6"/>
<rect x="77.40" y="408.00" width="6.80" height="8.40" fill="#cc7826" stroke="#aa601a" stroke-width="0.6"/>
<line x1="71.50" y1="388.75" x2="71.50" y2="389.20" stroke="#3a3a3a" stroke-width="0.75" />
<line x1="70.20" y1="388.75" x2="72.80" y2="388.75" stroke="#3a3a3a" stroke-width="0.9" />
<line x1="80.80" y1="406.20" x2="80.80" y2="407.70" stroke="#4a4a4a" stroke-width="0.75" />
<line x1="79.50" y1="406.20" x2="82.10" y2="406.20" stroke="#4a4a4a" stroke-width="0.9" />
<path d="M71.50 385.45 V375.30 H80.80 V402.90" fill="none" stroke="#808080" stroke-width="0.8"/>
<text x="76.15" y="373.90" font-size="6.2" text-anchor="middle" fill="#333" stroke="#333" stroke-width="0.22" letter-spacing="-0.35">****</text>
<line x1="100.45" y1="420.80" x2="100.45" y2="423.60" stroke="#222" stroke-width="1.1" />
<text x="100.45" y="432.60" font-size="6.2" text-anchor="middle" fill="#333" stroke="#333" stroke-width="0.22" >75</text>
<rect x="92.40" y="384.97" width="6.80" height="31.43" fill="#5e3614" stroke="#3c2009" stroke-width="0.6"/>
<rect x="101.70" y="399.79" width="6.80" height="16.61" fill="#cc7826" stroke="#aa601a" stroke-width="0.6"/>
<line x1="95.80" y1="383.49" x2="95.80" y2="384.67" stroke="#3a3a3a" stroke-width="0.75" />
<line x1="94.50" y1="383.49" x2="97.10" y2="383.49" stroke="#3a3a3a" stroke-width="0.9" />
<line x1="105.10" y1="397.36" x2="105.10" y2="399.49" stroke="#4a4a4a" stroke-width="0.75" />
<line x1="103.80" y1="397.36" x2="106.40" y2="397.36" stroke="#4a4a4a" stroke-width="0.9" />
<path d="M95.80 380.19 V375.30 H105.10 V394.06" fill="none" stroke="#808080" stroke-width="0.8"/>
<text x="100.45" y="373.90" font-size="6.2" text-anchor="middle" fill="#333" stroke="#333" stroke-width="0.22" letter-spacing="-0.35">****</text>
<line x1="124.70" y1="420.80" x2="124.70" y2="423.60" stroke="#222" stroke-width="1.1" />
<text x="124.70" y="432.60" font-size="6.2" text-anchor="middle" fill="#333" stroke="#333" stroke-width="0.22" >100</text>
<rect x="116.65" y="383.79" width="6.80" height="32.61" fill="#5e3614" stroke="#3c2009" stroke-width="0.6"/>
<rect x="125.95" y="395.71" width="6.80" height="20.69" fill="#cc7826" stroke="#aa601a" stroke-width="0.6"/>
<line x1="120.05" y1="382.58" x2="120.05" y2="383.49" stroke="#3a3a3a" stroke-width="0.75" />
<line x1="118.75" y1="382.58" x2="121.35" y2="382.58" stroke="#3a3a3a" stroke-width="0.9" />
<line x1="129.35" y1="393.42" x2="129.35" y2="395.41" stroke="#4a4a4a" stroke-width="0.75" />
<line x1="128.05" y1="393.42" x2="130.65" y2="393.42" stroke="#4a4a4a" stroke-width="0.9" />
<path d="M120.05 379.28 V375.30 H129.35 V390.12" fill="none" stroke="#808080" stroke-width="0.8"/>
<text x="124.70" y="373.90" font-size="6.2" text-anchor="middle" fill="#333" stroke="#333" stroke-width="0.22" letter-spacing="-0.35">****</text>
<text x="88.30" y="353.40" font-size="8" text-anchor="middle" fill="#222" stroke="#222" stroke-width="0.22" >48hr</text>
<text x="88.00" y="445.00" font-size="7.8" text-anchor="middle" fill="#333" font-weight="bold" textLength="52" lengthAdjust="spacingAndGlyphs" >Bendamustine (μM)</text>
<text x="19.30" y="389.50" font-size="8.1" text-anchor="middle" fill="#333" font-weight="bold" textLength="33.5" lengthAdjust="spacingAndGlyphs" transform="rotate(-90 19.30 389.50)" >% Cell killing</text>
<line x1="174.40" y1="359.50" x2="174.40" y2="421.50" stroke="#222" stroke-width="1.5" />
<line x1="171.50" y1="416.40" x2="174.40" y2="416.40" stroke="#222" stroke-width="1.1" />
<text x="168.20" y="418.60" font-size="6.2" text-anchor="end" fill="#333" stroke="#333" stroke-width="0.22" >0</text>
<line x1="171.50" y1="402.80" x2="174.40" y2="402.80" stroke="#222" stroke-width="1.1" />
<text x="168.20" y="405.00" font-size="6.2" text-anchor="end" fill="#333" stroke="#333" stroke-width="0.22" >30</text>
<line x1="171.50" y1="389.20" x2="174.40" y2="389.20" stroke="#222" stroke-width="1.1" />
<text x="168.20" y="391.40" font-size="6.2" text-anchor="end" fill="#333" stroke="#333" stroke-width="0.22" >60</text>
<line x1="171.50" y1="375.60" x2="174.40" y2="375.60" stroke="#222" stroke-width="1.1" />
<text x="168.20" y="377.80" font-size="6.2" text-anchor="end" fill="#333" stroke="#333" stroke-width="0.22" >90</text>
<line x1="171.50" y1="362.00" x2="174.40" y2="362.00" stroke="#222" stroke-width="1.1" />
<text x="168.20" y="364.20" font-size="6.2" text-anchor="end" fill="#333" stroke="#333" stroke-width="0.22" >120</text>
<line x1="173.70" y1="420.80" x2="269.00" y2="420.80" stroke="#222" stroke-width="1.5" />
<line x1="175.40" y1="416.40" x2="269.00" y2="416.40" stroke="#333" stroke-width="0.7" stroke-dasharray="0.9 1.1"/>
<line x1="184.65" y1="420.80" x2="184.65" y2="423.60" stroke="#222" stroke-width="1.1" />
<text x="184.65" y="432.60" font-size="6.2" text-anchor="middle" fill="#333" stroke="#333" stroke-width="0.22" >0</text>
<line x1="180.00" y1="415.04" x2="180.00" y2="417.76" stroke="#3a3a3a" stroke-width="0.75" />
<line x1="178.70" y1="415.04" x2="181.30" y2="415.04" stroke="#3a3a3a" stroke-width="0.9" />
<line x1="178.70" y1="417.76" x2="181.30" y2="417.76" stroke="#3a3a3a" stroke-width="0.9" />
<line x1="189.30" y1="415.04" x2="189.30" y2="417.76" stroke="#4a4a4a" stroke-width="0.75" />
<line x1="188.00" y1="415.04" x2="190.60" y2="415.04" stroke="#4a4a4a" stroke-width="0.9" />
<line x1="188.00" y1="417.76" x2="190.60" y2="417.76" stroke="#4a4a4a" stroke-width="0.9" />
<path d="M180.00 411.74 V373.30 H189.30 V411.74" fill="none" stroke="#808080" stroke-width="0.8"/>
<text x="184.65" y="371.00" font-size="6.0" text-anchor="middle" fill="#444" stroke="#444" stroke-width="0.22" >ns</text>
<line x1="209.45" y1="420.80" x2="209.45" y2="423.60" stroke="#222" stroke-width="1.1" />
<text x="209.45" y="432.60" font-size="6.2" text-anchor="middle" fill="#333" stroke="#333" stroke-width="0.22" >5</text>
<rect x="201.40" y="389.32" width="6.80" height="27.08" fill="#5e3614" stroke="#3c2009" stroke-width="0.6"/>
<rect x="210.70" y="411.49" width="6.80" height="4.91" fill="#cc7826" stroke="#aa601a" stroke-width="0.6"/>
<line x1="204.80" y1="387.52" x2="204.80" y2="389.02" stroke="#3a3a3a" stroke-width="0.75" />
<line x1="203.50" y1="387.52" x2="206.10" y2="387.52" stroke="#3a3a3a" stroke-width="0.9" />
<line x1="214.10" y1="405.52" x2="214.10" y2="411.19" stroke="#4a4a4a" stroke-width="0.75" />
<line x1="212.80" y1="405.52" x2="215.40" y2="405.52" stroke="#4a4a4a" stroke-width="0.9" />
<path d="M204.80 384.22 V373.30 H214.10 V402.22" fill="none" stroke="#808080" stroke-width="0.8"/>
<text x="209.45" y="371.90" font-size="6.2" text-anchor="middle" fill="#333" stroke="#333" stroke-width="0.22" letter-spacing="-0.35">***</text>
<line x1="233.65" y1="420.80" x2="233.65" y2="423.60" stroke="#222" stroke-width="1.1" />
<text x="233.65" y="432.60" font-size="6.2" text-anchor="middle" fill="#333" stroke="#333" stroke-width="0.22" >10</text>
<rect x="225.60" y="384.97" width="6.80" height="31.43" fill="#5e3614" stroke="#3c2009" stroke-width="0.6"/>
<rect x="234.90" y="403.69" width="6.80" height="12.71" fill="#cc7826" stroke="#aa601a" stroke-width="0.6"/>
<line x1="229.00" y1="383.99" x2="229.00" y2="384.67" stroke="#3a3a3a" stroke-width="0.75" />
<line x1="227.70" y1="383.99" x2="230.30" y2="383.99" stroke="#3a3a3a" stroke-width="0.9" />
<line x1="238.30" y1="394.64" x2="238.30" y2="403.39" stroke="#4a4a4a" stroke-width="0.75" />
<line x1="237.00" y1="394.64" x2="239.60" y2="394.64" stroke="#4a4a4a" stroke-width="0.9" />
<path d="M229.00 380.69 V373.30 H238.30 V391.34" fill="none" stroke="#808080" stroke-width="0.8"/>
<text x="233.65" y="371.90" font-size="6.2" text-anchor="middle" fill="#333" stroke="#333" stroke-width="0.22" letter-spacing="-0.35">*</text>
<line x1="258.00" y1="420.80" x2="258.00" y2="423.60" stroke="#222" stroke-width="1.1" />
<text x="258.00" y="432.60" font-size="6.2" text-anchor="middle" fill="#333" stroke="#333" stroke-width="0.22" >15</text>
<rect x="249.95" y="381.16" width="6.80" height="35.24" fill="#5e3614" stroke="#3c2009" stroke-width="0.6"/>
<rect x="259.25" y="400.29" width="6.80" height="16.11" fill="#cc7826" stroke="#aa601a" stroke-width="0.6"/>
<line x1="253.35" y1="380.41" x2="253.35" y2="380.86" stroke="#3a3a3a" stroke-width="0.75" />
<line x1="252.05" y1="380.41" x2="254.65" y2="380.41" stroke="#3a3a3a" stroke-width="0.9" />
<line x1="262.65" y1="388.47" x2="262.65" y2="399.99" stroke="#4a4a4a" stroke-width="0.75" />
<line x1="261.35" y1="388.47" x2="263.95" y2="388.47" stroke="#4a4a4a" stroke-width="0.9" />
<path d="M253.35 377.11 V373.30 H262.65 V385.17" fill="none" stroke="#808080" stroke-width="0.8"/>
<text x="258.00" y="371.90" font-size="6.2" text-anchor="middle" fill="#333" stroke="#333" stroke-width="0.22" letter-spacing="-0.35">*</text>
<text x="221.40" y="353.60" font-size="8" text-anchor="middle" fill="#222" stroke="#222" stroke-width="0.22" >48hr</text>
<text x="221.25" y="445.00" font-size="7.8" text-anchor="middle" fill="#333" font-weight="bold" textLength="43" lengthAdjust="spacingAndGlyphs" >Melphalan (μM)</text>
<text x="152.30" y="389.50" font-size="8.1" text-anchor="middle" fill="#333" font-weight="bold" textLength="33.5" lengthAdjust="spacingAndGlyphs" transform="rotate(-90 152.30 389.50)" >% Cell killing</text>
<line x1="307.20" y1="359.80" x2="307.20" y2="421.60" stroke="#222" stroke-width="1.5" />
<line x1="304.30" y1="416.70" x2="307.20" y2="416.70" stroke="#222" stroke-width="1.1" />
<text x="301.00" y="418.90" font-size="6.2" text-anchor="end" fill="#333" stroke="#333" stroke-width="0.22" >0</text>
<line x1="304.30" y1="403.10" x2="307.20" y2="403.10" stroke="#222" stroke-width="1.1" />
<text x="301.00" y="405.30" font-size="6.2" text-anchor="end" fill="#333" stroke="#333" stroke-width="0.22" >30</text>
<line x1="304.30" y1="389.50" x2="307.20" y2="389.50" stroke="#222" stroke-width="1.1" />
<text x="301.00" y="391.70" font-size="6.2" text-anchor="end" fill="#333" stroke="#333" stroke-width="0.22" >60</text>
<line x1="304.30" y1="375.90" x2="307.20" y2="375.90" stroke="#222" stroke-width="1.1" />
<text x="301.00" y="378.10" font-size="6.2" text-anchor="end" fill="#333" stroke="#333" stroke-width="0.22" >90</text>
<line x1="304.30" y1="362.30" x2="307.20" y2="362.30" stroke="#222" stroke-width="1.1" />
<text x="301.00" y="364.50" font-size="6.2" text-anchor="end" fill="#333" stroke="#333" stroke-width="0.22" >120</text>
<line x1="306.50" y1="420.90" x2="377.50" y2="420.90" stroke="#222" stroke-width="1.5" />
<line x1="308.20" y1="416.70" x2="377.50" y2="416.70" stroke="#333" stroke-width="0.7" stroke-dasharray="0.9 1.1"/>
<line x1="318.10" y1="420.90" x2="318.10" y2="423.70" stroke="#222" stroke-width="1.1" />
<text x="318.10" y="432.70" font-size="6.2" text-anchor="middle" fill="#333" stroke="#333" stroke-width="0.22" >0</text>
<line x1="313.45" y1="411.49" x2="313.45" y2="420.30" stroke="#3a3a3a" stroke-width="0.75" />
<line x1="312.15" y1="411.49" x2="314.75" y2="411.49" stroke="#3a3a3a" stroke-width="0.9" />
<line x1="322.75" y1="413.98" x2="322.75" y2="419.42" stroke="#4a4a4a" stroke-width="0.75" />
<line x1="321.45" y1="413.98" x2="324.05" y2="413.98" stroke="#4a4a4a" stroke-width="0.9" />
<line x1="321.45" y1="419.42" x2="324.05" y2="419.42" stroke="#4a4a4a" stroke-width="0.9" />
<path d="M313.45 408.19 V367.50 H322.75 V410.68" fill="none" stroke="#808080" stroke-width="0.8"/>
<text x="318.10" y="365.20" font-size="6.0" text-anchor="middle" fill="#444" stroke="#444" stroke-width="0.22" >ns</text>
<line x1="342.40" y1="420.90" x2="342.40" y2="423.70" stroke="#222" stroke-width="1.1" />
<text x="342.40" y="432.70" font-size="6.2" text-anchor="middle" fill="#333" stroke="#333" stroke-width="0.22" >50</text>
<rect x="334.35" y="407.21" width="6.80" height="9.49" fill="#5e3614" stroke="#3c2009" stroke-width="0.6"/>
<rect x="343.65" y="414.28" width="6.80" height="2.42" fill="#cc7826" stroke="#aa601a" stroke-width="0.6"/>
<line x1="337.75" y1="406.45" x2="337.75" y2="406.91" stroke="#3a3a3a" stroke-width="0.75" />
<line x1="336.45" y1="406.45" x2="339.05" y2="406.45" stroke="#3a3a3a" stroke-width="0.9" />
<line x1="347.05" y1="411.89" x2="347.05" y2="413.98" stroke="#4a4a4a" stroke-width="0.75" />
<line x1="345.75" y1="411.89" x2="348.35" y2="411.89" stroke="#4a4a4a" stroke-width="0.9" />
<path d="M337.75 403.15 V367.50 H347.05 V408.59" fill="none" stroke="#808080" stroke-width="0.8"/>
<text x="342.40" y="366.10" font-size="6.2" text-anchor="middle" fill="#333" stroke="#333" stroke-width="0.22" letter-spacing="-0.35">***</text>
<line x1="367.00" y1="420.90" x2="367.00" y2="423.70" stroke="#222" stroke-width="1.1" />
<text x="367.00" y="432.70" font-size="6.2" text-anchor="middle" fill="#333" stroke="#333" stroke-width="0.22" >75</text>
<rect x="358.95" y="398.19" width="6.80" height="18.51" fill="#5e3614" stroke="#3c2009" stroke-width="0.6"/>
<rect x="368.25" y="410.29" width="6.80" height="6.41" fill="#cc7826" stroke="#aa601a" stroke-width="0.6"/>
<line x1="362.35" y1="396.48" x2="362.35" y2="397.89" stroke="#3a3a3a" stroke-width="0.75" />
<line x1="361.05" y1="396.48" x2="363.65" y2="396.48" stroke="#3a3a3a" stroke-width="0.9" />
<line x1="371.65" y1="402.24" x2="371.65" y2="409.99" stroke="#4a4a4a" stroke-width="0.75" />
<line x1="370.35" y1="402.24" x2="372.95" y2="402.24" stroke="#4a4a4a" stroke-width="0.9" />
<path d="M362.35 393.18 V367.50 H371.65 V398.94" fill="none" stroke="#808080" stroke-width="0.8"/>
<text x="367.00" y="366.10" font-size="6.2" text-anchor="middle" fill="#333" stroke="#333" stroke-width="0.22" letter-spacing="-0.35">*</text>
<text x="341.70" y="353.60" font-size="8" text-anchor="middle" fill="#222" stroke="#222" stroke-width="0.22" >48hr</text>
<text x="342.50" y="445.00" font-size="7.8" text-anchor="middle" fill="#333" font-weight="bold" textLength="50" lengthAdjust="spacingAndGlyphs" >Lenalidomide (μM)</text>
<text x="285.10" y="389.50" font-size="8.1" text-anchor="middle" fill="#333" font-weight="bold" textLength="33.5" lengthAdjust="spacingAndGlyphs" transform="rotate(-90 285.10 389.50)" >% Cell killing</text>
<line x1="417.40" y1="359.50" x2="417.40" y2="421.40" stroke="#222" stroke-width="1.5" />
<line x1="414.50" y1="416.40" x2="417.40" y2="416.40" stroke="#222" stroke-width="1.1" />
<text x="411.20" y="418.60" font-size="6.2" text-anchor="end" fill="#333" stroke="#333" stroke-width="0.22" >0</text>
<line x1="414.50" y1="402.80" x2="417.40" y2="402.80" stroke="#222" stroke-width="1.1" />
<text x="411.20" y="405.00" font-size="6.2" text-anchor="end" fill="#333" stroke="#333" stroke-width="0.22" >30</text>
<line x1="414.50" y1="389.20" x2="417.40" y2="389.20" stroke="#222" stroke-width="1.1" />
<text x="411.20" y="391.40" font-size="6.2" text-anchor="end" fill="#333" stroke="#333" stroke-width="0.22" >60</text>
<line x1="414.50" y1="375.60" x2="417.40" y2="375.60" stroke="#222" stroke-width="1.1" />
<text x="411.20" y="377.80" font-size="6.2" text-anchor="end" fill="#333" stroke="#333" stroke-width="0.22" >90</text>
<line x1="414.50" y1="362.00" x2="417.40" y2="362.00" stroke="#222" stroke-width="1.1" />
<text x="411.20" y="364.20" font-size="6.2" text-anchor="end" fill="#333" stroke="#333" stroke-width="0.22" >120</text>
<line x1="416.70" y1="420.70" x2="511.25" y2="420.70" stroke="#222" stroke-width="1.5" />
<line x1="418.40" y1="416.40" x2="511.25" y2="416.40" stroke="#333" stroke-width="0.7" stroke-dasharray="0.9 1.1"/>
<line x1="428.30" y1="420.70" x2="428.30" y2="423.50" stroke="#222" stroke-width="1.1" />
<text x="428.30" y="432.50" font-size="6.2" text-anchor="middle" fill="#333" stroke="#333" stroke-width="0.22" >0</text>
<line x1="423.65" y1="415.49" x2="423.65" y2="417.31" stroke="#3a3a3a" stroke-width="0.75" />
<line x1="422.35" y1="415.49" x2="424.95" y2="415.49" stroke="#3a3a3a" stroke-width="0.9" />
<line x1="422.35" y1="417.31" x2="424.95" y2="417.31" stroke="#3a3a3a" stroke-width="0.9" />
<line x1="432.95" y1="414.59" x2="432.95" y2="418.21" stroke="#4a4a4a" stroke-width="0.75" />
<line x1="431.65" y1="414.59" x2="434.25" y2="414.59" stroke="#4a4a4a" stroke-width="0.9" />
<line x1="431.65" y1="418.21" x2="434.25" y2="418.21" stroke="#4a4a4a" stroke-width="0.9" />
<path d="M423.65 412.19 V369.50 H432.95 V411.29" fill="none" stroke="#808080" stroke-width="0.8"/>
<text x="428.30" y="367.20" font-size="6.0" text-anchor="middle" fill="#444" stroke="#444" stroke-width="0.22" >ns</text>
<line x1="452.80" y1="420.70" x2="452.80" y2="423.50" stroke="#222" stroke-width="1.1" />
<text x="452.80" y="432.50" font-size="6.2" text-anchor="middle" fill="#333" stroke="#333" stroke-width="0.22" >1</text>
<rect x="444.75" y="392.22" width="6.80" height="24.18" fill="#5e3614" stroke="#3c2009" stroke-width="0.6"/>
<rect x="454.05" y="404.41" width="6.80" height="11.99" fill="#cc7826" stroke="#aa601a" stroke-width="0.6"/>
<line x1="448.15" y1="390.02" x2="448.15" y2="391.92" stroke="#3a3a3a" stroke-width="0.75" />
<line x1="446.85" y1="390.02" x2="449.45" y2="390.02" stroke="#3a3a3a" stroke-width="0.9" />
<line x1="457.45" y1="401.98" x2="457.45" y2="404.11" stroke="#4a4a4a" stroke-width="0.75" />
<line x1="456.15" y1="401.98" x2="458.75" y2="401.98" stroke="#4a4a4a" stroke-width="0.9" />
<path d="M448.15 386.72 V369.50 H457.45 V398.68" fill="none" stroke="#808080" stroke-width="0.8"/>
<text x="452.80" y="368.10" font-size="6.2" text-anchor="middle" fill="#333" stroke="#333" stroke-width="0.22" letter-spacing="-0.35">***</text>
<line x1="477.00" y1="420.70" x2="477.00" y2="423.50" stroke="#222" stroke-width="1.1" />
<text x="477.00" y="432.50" font-size="6.2" text-anchor="middle" fill="#333" stroke="#333" stroke-width="0.22" >5</text>
<rect x="468.95" y="387.78" width="6.80" height="28.62" fill="#5e3614" stroke="#3c2009" stroke-width="0.6"/>
<rect x="478.25" y="400.52" width="6.80" height="15.88" fill="#cc7826" stroke="#aa601a" stroke-width="0.6"/>
<line x1="472.35" y1="385.39" x2="472.35" y2="387.48" stroke="#3a3a3a" stroke-width="0.75" />
<line x1="471.05" y1="385.39" x2="473.65" y2="385.39" stroke="#3a3a3a" stroke-width="0.9" />
<line x1="481.65" y1="398.49" x2="481.65" y2="400.22" stroke="#4a4a4a" stroke-width="0.75" />
<line x1="480.35" y1="398.49" x2="482.95" y2="398.49" stroke="#4a4a4a" stroke-width="0.9" />
<path d="M472.35 382.09 V369.50 H481.65 V395.19" fill="none" stroke="#808080" stroke-width="0.8"/>
<text x="477.00" y="368.10" font-size="6.2" text-anchor="middle" fill="#333" stroke="#333" stroke-width="0.22" letter-spacing="-0.35">***</text>
<line x1="501.40" y1="420.70" x2="501.40" y2="423.50" stroke="#222" stroke-width="1.1" />
<text x="501.40" y="432.50" font-size="6.2" text-anchor="middle" fill="#333" stroke="#333" stroke-width="0.22" >10</text>
<rect x="493.35" y="386.10" width="6.80" height="30.30" fill="#5e3614" stroke="#3c2009" stroke-width="0.6"/>
<rect x="502.65" y="400.52" width="6.80" height="15.88" fill="#cc7826" stroke="#aa601a" stroke-width="0.6"/>
<line x1="496.75" y1="384.39" x2="496.75" y2="385.80" stroke="#3a3a3a" stroke-width="0.75" />
<line x1="495.45" y1="384.39" x2="498.05" y2="384.39" stroke="#3a3a3a" stroke-width="0.9" />
<line x1="506.05" y1="397.90" x2="506.05" y2="400.22" stroke="#4a4a4a" stroke-width="0.75" />
<line x1="504.75" y1="397.90" x2="507.35" y2="397.90" stroke="#4a4a4a" stroke-width="0.9" />
<path d="M496.75 381.09 V369.50 H506.05 V394.60" fill="none" stroke="#808080" stroke-width="0.8"/>
<text x="501.40" y="368.10" font-size="6.2" text-anchor="middle" fill="#333" stroke="#333" stroke-width="0.22" letter-spacing="-0.35">****</text>
<text x="465.20" y="353.60" font-size="8" text-anchor="middle" fill="#222" stroke="#222" stroke-width="0.22" >48hr</text>
<text x="465.00" y="445.00" font-size="7.8" text-anchor="middle" fill="#333" font-weight="bold" textLength="53" lengthAdjust="spacingAndGlyphs" >Pomalidomide (μM)</text>
<text x="395.30" y="389.50" font-size="8.1" text-anchor="middle" fill="#333" font-weight="bold" textLength="33.5" lengthAdjust="spacingAndGlyphs" transform="rotate(-90 395.30 389.50)" >% Cell killing</text>
<line x1="41.40" y1="503.75" x2="41.40" y2="565.70" stroke="#222" stroke-width="1.5" />
<line x1="38.50" y1="558.75" x2="41.40" y2="558.75" stroke="#222" stroke-width="1.1" />
<text x="35.20" y="560.95" font-size="6.2" text-anchor="end" fill="#333" stroke="#333" stroke-width="0.22" >0</text>
<line x1="38.50" y1="545.62" x2="41.40" y2="545.62" stroke="#222" stroke-width="1.1" />
<text x="35.20" y="547.83" font-size="6.2" text-anchor="end" fill="#333" stroke="#333" stroke-width="0.22" >30</text>
<line x1="38.50" y1="532.50" x2="41.40" y2="532.50" stroke="#222" stroke-width="1.1" />
<text x="35.20" y="534.70" font-size="6.2" text-anchor="end" fill="#333" stroke="#333" stroke-width="0.22" >60</text>
<line x1="38.50" y1="519.38" x2="41.40" y2="519.38" stroke="#222" stroke-width="1.1" />
<text x="35.20" y="521.58" font-size="6.2" text-anchor="end" fill="#333" stroke="#333" stroke-width="0.22" >90</text>
<line x1="38.50" y1="506.25" x2="41.40" y2="506.25" stroke="#222" stroke-width="1.1" />
<text x="35.20" y="508.45" font-size="6.2" text-anchor="end" fill="#333" stroke="#333" stroke-width="0.22" >120</text>
<line x1="40.70" y1="565.00" x2="112.50" y2="565.00" stroke="#222" stroke-width="1.5" />
<line x1="42.40" y1="558.75" x2="112.50" y2="558.75" stroke="#333" stroke-width="0.7" stroke-dasharray="0.9 1.1"/>
<line x1="52.10" y1="565.00" x2="52.10" y2="567.80" stroke="#222" stroke-width="1.1" />
<text x="52.10" y="576.80" font-size="6.2" text-anchor="middle" fill="#333" stroke="#333" stroke-width="0.22" >0</text>
<line x1="47.45" y1="557.88" x2="47.45" y2="559.62" stroke="#3a3a3a" stroke-width="0.75" />
<line x1="46.15" y1="557.88" x2="48.75" y2="557.88" stroke="#3a3a3a" stroke-width="0.9" />
<line x1="46.15" y1="559.62" x2="48.75" y2="559.62" stroke="#3a3a3a" stroke-width="0.9" />
<line x1="56.75" y1="557.88" x2="56.75" y2="559.62" stroke="#4a4a4a" stroke-width="0.75" />
<line x1="55.45" y1="557.88" x2="58.05" y2="557.88" stroke="#4a4a4a" stroke-width="0.9" />
<line x1="55.45" y1="559.62" x2="58.05" y2="559.62" stroke="#4a4a4a" stroke-width="0.9" />
<path d="M47.45 554.58 V516.30 H56.75 V554.58" fill="none" stroke="#808080" stroke-width="0.8"/>
<text x="52.10" y="514.00" font-size="6.0" text-anchor="middle" fill="#444" stroke="#444" stroke-width="0.22" >ns</text>
<line x1="76.20" y1="565.00" x2="76.20" y2="567.80" stroke="#222" stroke-width="1.1" />
<text x="76.20" y="576.80" font-size="6.2" text-anchor="middle" fill="#333" stroke="#333" stroke-width="0.22" >5</text>
<rect x="68.15" y="542.99" width="6.80" height="15.76" fill="#5e3614" stroke="#3c2009" stroke-width="0.6"/>
<rect x="77.45" y="552.31" width="6.80" height="6.44" fill="#cc7826" stroke="#aa601a" stroke-width="0.6"/>
<line x1="71.55" y1="540.42" x2="71.55" y2="542.69" stroke="#3a3a3a" stroke-width="0.75" />
<line x1="70.25" y1="540.42" x2="72.85" y2="540.42" stroke="#3a3a3a" stroke-width="0.9" />
<line x1="80.85" y1="547.11" x2="80.85" y2="552.01" stroke="#4a4a4a" stroke-width="0.75" />
<line x1="79.55" y1="547.11" x2="82.15" y2="547.11" stroke="#4a4a4a" stroke-width="0.9" />
<path d="M71.55 537.12 V516.30 H80.85 V543.81" fill="none" stroke="#808080" stroke-width="0.8"/>
<text x="76.20" y="514.90" font-size="6.2" text-anchor="middle" fill="#333" stroke="#333" stroke-width="0.22" letter-spacing="-0.35">**</text>
<line x1="100.50" y1="565.00" x2="100.50" y2="567.80" stroke="#222" stroke-width="1.1" />
<text x="100.50" y="576.80" font-size="6.2" text-anchor="middle" fill="#333" stroke="#333" stroke-width="0.22" >10</text>
<rect x="92.45" y="523.79" width="6.80" height="34.96" fill="#5e3614" stroke="#3c2009" stroke-width="0.6"/>
<rect x="101.75" y="537.00" width="6.80" height="21.75" fill="#cc7826" stroke="#aa601a" stroke-width="0.6"/>
<line x1="95.85" y1="523.05" x2="95.85" y2="523.49" stroke="#3a3a3a" stroke-width="0.75" />
<line x1="94.55" y1="523.05" x2="97.15" y2="523.05" stroke="#3a3a3a" stroke-width="0.9" />
<line x1="105.15" y1="532.50" x2="105.15" y2="536.70" stroke="#4a4a4a" stroke-width="0.75" />
<line x1="103.85" y1="532.50" x2="106.45" y2="532.50" stroke="#4a4a4a" stroke-width="0.9" />
<path d="M95.85 519.75 V516.30 H105.15 V529.20" fill="none" stroke="#808080" stroke-width="0.8"/>
<text x="100.50" y="514.90" font-size="6.2" text-anchor="middle" fill="#333" stroke="#333" stroke-width="0.22" letter-spacing="-0.35">****</text>
<text x="75.00" y="499.30" font-size="8" text-anchor="middle" fill="#222" stroke="#222" stroke-width="0.22" >48hr</text>
<text x="78.75" y="588.70" font-size="7.8" text-anchor="middle" fill="#333" font-weight="bold" textLength="45" lengthAdjust="spacingAndGlyphs" >Bortezomib (nM)</text>
<text x="19.30" y="533.00" font-size="8.1" text-anchor="middle" fill="#333" font-weight="bold" textLength="33.5" lengthAdjust="spacingAndGlyphs" transform="rotate(-90 19.30 533.00)" >% Cell killing</text>
<line x1="155.45" y1="503.75" x2="155.45" y2="566.00" stroke="#222" stroke-width="1.5" />
<line x1="152.55" y1="560.80" x2="155.45" y2="560.80" stroke="#222" stroke-width="1.1" />
<text x="149.25" y="563.00" font-size="6.2" text-anchor="end" fill="#333" stroke="#333" stroke-width="0.22" >0</text>
<line x1="152.55" y1="547.16" x2="155.45" y2="547.16" stroke="#222" stroke-width="1.1" />
<text x="149.25" y="549.36" font-size="6.2" text-anchor="end" fill="#333" stroke="#333" stroke-width="0.22" >30</text>
<line x1="152.55" y1="533.52" x2="155.45" y2="533.52" stroke="#222" stroke-width="1.1" />
<text x="149.25" y="535.73" font-size="6.2" text-anchor="end" fill="#333" stroke="#333" stroke-width="0.22" >60</text>
<line x1="152.55" y1="519.89" x2="155.45" y2="519.89" stroke="#222" stroke-width="1.1" />
<text x="149.25" y="522.09" font-size="6.2" text-anchor="end" fill="#333" stroke="#333" stroke-width="0.22" >90</text>
<line x1="152.55" y1="506.25" x2="155.45" y2="506.25" stroke="#222" stroke-width="1.1" />
<text x="149.25" y="508.45" font-size="6.2" text-anchor="end" fill="#333" stroke="#333" stroke-width="0.22" >120</text>
<line x1="154.75" y1="565.30" x2="226.25" y2="565.30" stroke="#222" stroke-width="1.5" />
<line x1="156.45" y1="560.80" x2="226.25" y2="560.80" stroke="#333" stroke-width="0.7" stroke-dasharray="0.9 1.1"/>
<line x1="165.55" y1="565.30" x2="165.55" y2="568.10" stroke="#222" stroke-width="1.1" />
<text x="165.55" y="577.10" font-size="6.2" text-anchor="middle" fill="#333" stroke="#333" stroke-width="0.22" >0</text>
<line x1="160.90" y1="559.89" x2="160.90" y2="561.71" stroke="#3a3a3a" stroke-width="0.75" />
<line x1="159.60" y1="559.89" x2="162.20" y2="559.89" stroke="#3a3a3a" stroke-width="0.9" />
<line x1="159.60" y1="561.71" x2="162.20" y2="561.71" stroke="#3a3a3a" stroke-width="0.9" />
<line x1="170.20" y1="559.89" x2="170.20" y2="561.71" stroke="#4a4a4a" stroke-width="0.75" />
<line x1="168.90" y1="559.89" x2="171.50" y2="559.89" stroke="#4a4a4a" stroke-width="0.9" />
<line x1="168.90" y1="561.71" x2="171.50" y2="561.71" stroke="#4a4a4a" stroke-width="0.9" />
<path d="M160.90 556.59 V512.90 H170.20 V556.59" fill="none" stroke="#808080" stroke-width="0.8"/>
<text x="165.55" y="510.60" font-size="6.0" text-anchor="middle" fill="#444" stroke="#444" stroke-width="0.22" >ns</text>
<line x1="190.50" y1="565.30" x2="190.50" y2="568.10" stroke="#222" stroke-width="1.1" />
<text x="190.50" y="577.10" font-size="6.2" text-anchor="middle" fill="#333" stroke="#333" stroke-width="0.22" >5</text>
<rect x="182.45" y="532.42" width="6.80" height="28.38" fill="#5e3614" stroke="#3c2009" stroke-width="0.6"/>
<rect x="191.75" y="544.28" width="6.80" height="16.52" fill="#cc7826" stroke="#aa601a" stroke-width="0.6"/>
<line x1="185.85" y1="530.80" x2="185.85" y2="532.12" stroke="#3a3a3a" stroke-width="0.75" />
<line x1="184.55" y1="530.80" x2="187.15" y2="530.80" stroke="#3a3a3a" stroke-width="0.9" />
<line x1="195.15" y1="541.39" x2="195.15" y2="543.98" stroke="#4a4a4a" stroke-width="0.75" />
<line x1="193.85" y1="541.39" x2="196.45" y2="541.39" stroke="#4a4a4a" stroke-width="0.9" />
<path d="M185.85 527.50 V512.90 H195.15 V538.09" fill="none" stroke="#808080" stroke-width="0.8"/>
<text x="190.50" y="511.50" font-size="6.2" text-anchor="middle" fill="#333" stroke="#333" stroke-width="0.22" letter-spacing="-0.35">****</text>
<line x1="214.80" y1="565.30" x2="214.80" y2="568.10" stroke="#222" stroke-width="1.1" />
<text x="214.80" y="577.10" font-size="6.2" text-anchor="middle" fill="#333" stroke="#333" stroke-width="0.22" >10</text>
<rect x="206.75" y="520.64" width="6.80" height="40.16" fill="#5e3614" stroke="#3c2009" stroke-width="0.6"/>
<rect x="216.05" y="531.55" width="6.80" height="29.25" fill="#cc7826" stroke="#aa601a" stroke-width="0.6"/>
<line x1="210.15" y1="519.89" x2="210.15" y2="520.34" stroke="#3a3a3a" stroke-width="0.75" />
<line x1="208.85" y1="519.89" x2="211.45" y2="519.89" stroke="#3a3a3a" stroke-width="0.9" />
<line x1="219.45" y1="527.89" x2="219.45" y2="531.25" stroke="#4a4a4a" stroke-width="0.75" />
<line x1="218.15" y1="527.89" x2="220.75" y2="527.89" stroke="#4a4a4a" stroke-width="0.9" />
<path d="M210.15 516.59 V512.90 H219.45 V524.59" fill="none" stroke="#808080" stroke-width="0.8"/>
<text x="214.80" y="511.50" font-size="6.2" text-anchor="middle" fill="#333" stroke="#333" stroke-width="0.22" letter-spacing="-0.35">****</text>
<text x="190.00" y="498.30" font-size="8" text-anchor="middle" fill="#222" stroke="#222" stroke-width="0.22" >48hr</text>
<text x="193.75" y="588.70" font-size="7.8" text-anchor="middle" fill="#333" font-weight="bold" textLength="44" lengthAdjust="spacingAndGlyphs" >Carfilzomib (nM)</text>
<text x="133.35" y="533.00" font-size="8.1" text-anchor="middle" fill="#333" font-weight="bold" textLength="33.5" lengthAdjust="spacingAndGlyphs" transform="rotate(-90 133.35 533.00)" >% Cell killing</text>
<line x1="270.20" y1="504.10" x2="270.20" y2="566.00" stroke="#222" stroke-width="1.5" />
<line x1="267.30" y1="560.80" x2="270.20" y2="560.80" stroke="#222" stroke-width="1.1" />
<text x="264.00" y="563.00" font-size="6.2" text-anchor="end" fill="#333" stroke="#333" stroke-width="0.22" >0</text>
<line x1="267.30" y1="547.25" x2="270.20" y2="547.25" stroke="#222" stroke-width="1.1" />
<text x="264.00" y="549.45" font-size="6.2" text-anchor="end" fill="#333" stroke="#333" stroke-width="0.22" >30</text>
<line x1="267.30" y1="533.70" x2="270.20" y2="533.70" stroke="#222" stroke-width="1.1" />
<text x="264.00" y="535.90" font-size="6.2" text-anchor="end" fill="#333" stroke="#333" stroke-width="0.22" >60</text>
<line x1="267.30" y1="520.15" x2="270.20" y2="520.15" stroke="#222" stroke-width="1.1" />
<text x="264.00" y="522.35" font-size="6.2" text-anchor="end" fill="#333" stroke="#333" stroke-width="0.22" >90</text>
<line x1="267.30" y1="506.60" x2="270.20" y2="506.60" stroke="#222" stroke-width="1.1" />
<text x="264.00" y="508.80" font-size="6.2" text-anchor="end" fill="#333" stroke="#333" stroke-width="0.22" >120</text>
<line x1="269.50" y1="565.30" x2="341.25" y2="565.30" stroke="#222" stroke-width="1.5" />
<line x1="271.20" y1="560.80" x2="341.25" y2="560.80" stroke="#333" stroke-width="0.7" stroke-dasharray="0.9 1.1"/>
<line x1="280.60" y1="565.30" x2="280.60" y2="568.10" stroke="#222" stroke-width="1.1" />
<text x="280.60" y="577.10" font-size="6.2" text-anchor="middle" fill="#333" stroke="#333" stroke-width="0.22" >0</text>
<rect x="281.55" y="560.20" width="7.40" height="1.20" fill="#cc7826" />
<line x1="275.95" y1="556.28" x2="275.95" y2="564.70" stroke="#3a3a3a" stroke-width="0.75" />
<line x1="274.65" y1="556.28" x2="277.25" y2="556.28" stroke="#3a3a3a" stroke-width="0.9" />
<line x1="285.25" y1="560.35" x2="285.25" y2="560.71" stroke="#4a4a4a" stroke-width="0.75" />
<line x1="283.95" y1="560.35" x2="286.55" y2="560.35" stroke="#4a4a4a" stroke-width="0.9" />
<line x1="283.95" y1="560.71" x2="286.55" y2="560.71" stroke="#4a4a4a" stroke-width="0.9" />
<path d="M275.95 552.98 V519.50 H285.25 V557.05" fill="none" stroke="#808080" stroke-width="0.8"/>
<text x="280.60" y="517.20" font-size="6.0" text-anchor="middle" fill="#444" stroke="#444" stroke-width="0.22" >ns</text>
<line x1="304.75" y1="565.30" x2="304.75" y2="568.10" stroke="#222" stroke-width="1.1" />
<text x="304.75" y="577.10" font-size="6.2" text-anchor="middle" fill="#333" stroke="#333" stroke-width="0.22" >10</text>
<rect x="296.70" y="554.01" width="6.80" height="6.79" fill="#5e3614" stroke="#3c2009" stroke-width="0.6"/>
<rect x="306.00" y="559.61" width="6.80" height="1.19" fill="#cc7826" stroke="#aa601a" stroke-width="0.6"/>
<line x1="300.10" y1="553.26" x2="300.10" y2="553.71" stroke="#3a3a3a" stroke-width="0.75" />
<line x1="298.80" y1="553.26" x2="301.40" y2="553.26" stroke="#3a3a3a" stroke-width="0.9" />
<line x1="309.40" y1="556.60" x2="309.40" y2="559.31" stroke="#4a4a4a" stroke-width="0.75" />
<line x1="308.10" y1="556.60" x2="310.70" y2="556.60" stroke="#4a4a4a" stroke-width="0.9" />
<path d="M300.10 549.96 V519.50 H309.40 V553.30" fill="none" stroke="#808080" stroke-width="0.8"/>
<text x="304.75" y="518.10" font-size="6.2" text-anchor="middle" fill="#333" stroke="#333" stroke-width="0.22" letter-spacing="-0.35">*</text>
<line x1="329.20" y1="565.30" x2="329.20" y2="568.10" stroke="#222" stroke-width="1.1" />
<text x="329.20" y="577.10" font-size="6.2" text-anchor="middle" fill="#333" stroke="#333" stroke-width="0.22" >50</text>
<rect x="321.15" y="542.49" width="6.80" height="18.31" fill="#5e3614" stroke="#3c2009" stroke-width="0.6"/>
<rect x="330.45" y="556.31" width="6.80" height="4.49" fill="#cc7826" stroke="#aa601a" stroke-width="0.6"/>
<line x1="324.55" y1="540.93" x2="324.55" y2="542.19" stroke="#3a3a3a" stroke-width="0.75" />
<line x1="323.25" y1="540.93" x2="325.85" y2="540.93" stroke="#3a3a3a" stroke-width="0.9" />
<line x1="333.85" y1="551.18" x2="333.85" y2="556.01" stroke="#4a4a4a" stroke-width="0.75" />
<line x1="332.55" y1="551.18" x2="335.15" y2="551.18" stroke="#4a4a4a" stroke-width="0.9" />
<path d="M324.55 537.63 V519.50 H333.85 V547.88" fill="none" stroke="#808080" stroke-width="0.8"/>
<text x="329.20" y="518.10" font-size="6.2" text-anchor="middle" fill="#333" stroke="#333" stroke-width="0.22" letter-spacing="-0.35">***</text>
<text x="304.50" y="498.30" font-size="8" text-anchor="middle" fill="#222" stroke="#222" stroke-width="0.22" >48hr</text>
<text x="305.00" y="588.70" font-size="7.8" text-anchor="middle" fill="#333" font-weight="bold" textLength="56" lengthAdjust="spacingAndGlyphs" >Dexamethasone (μM)</text>
<text x="248.10" y="533.00" font-size="8.1" text-anchor="middle" fill="#333" font-weight="bold" textLength="33.5" lengthAdjust="spacingAndGlyphs" transform="rotate(-90 248.10 533.00)" >% Cell killing</text>
<text x="6.30" y="16.60" font-size="12.3" text-anchor="start" fill="#000" font-weight="bold" >A</text>
<text x="30.80" y="17.80" font-size="8.6" text-anchor="start" fill="#2c7b63" stroke="#2c7b63" stroke-width="0.1" textLength="40.7" lengthAdjust="spacingAndGlyphs" >KMS-12PE</text>
<text x="145.40" y="29.50" font-size="8" text-anchor="middle" fill="#222" stroke="#222" stroke-width="0.22" textLength="76" lengthAdjust="spacingAndGlyphs" >DNA damage agents</text>
<text x="387.50" y="29.70" font-size="8" text-anchor="middle" fill="#222" stroke="#222" stroke-width="0.22" textLength="91" lengthAdjust="spacingAndGlyphs" >Immunomodulatory drugs</text>
<text x="119.60" y="174.00" font-size="8" text-anchor="middle" fill="#222" stroke="#222" stroke-width="0.22" textLength="78" lengthAdjust="spacingAndGlyphs" >Proteasome inhibitors</text>
<text x="292.50" y="174.00" font-size="8" text-anchor="middle" fill="#222" stroke="#222" stroke-width="0.22" textLength="54" lengthAdjust="spacingAndGlyphs" >Glucocorticoid</text>
<rect x="224.30" y="36.60" width="8.80" height="2.80" fill="#15694b" />
<text x="235.80" y="40.10" font-size="6" text-anchor="start" fill="#333" stroke="#333" stroke-width="0.22" textLength="31" lengthAdjust="spacingAndGlyphs" >KMS-12PE</text>
<rect x="273.30" y="36.60" width="8.80" height="2.80" fill="#38b14a" />
<text x="285.00" y="40.10" font-size="6" text-anchor="start" fill="#333" stroke="#333" stroke-width="0.22" textLength="45.5" lengthAdjust="spacingAndGlyphs" >Resistant clones</text>
<text x="6.60" y="318.80" font-size="12.3" text-anchor="start" fill="#000" font-weight="bold" >C</text>
<text x="30.60" y="320.00" font-size="8.6" text-anchor="start" fill="#7d5a3e" stroke="#7d5a3e" stroke-width="0.1" textLength="29.5" lengthAdjust="spacingAndGlyphs" >KMS-27</text>
<text x="141.00" y="331.90" font-size="8" text-anchor="middle" fill="#222" stroke="#222" stroke-width="0.22" textLength="76" lengthAdjust="spacingAndGlyphs" >DNA damage agents</text>
<text x="382.00" y="332.00" font-size="8" text-anchor="middle" fill="#222" stroke="#222" stroke-width="0.22" textLength="91.5" lengthAdjust="spacingAndGlyphs" >Immunomodulatory drugs</text>
<text x="119.60" y="477.30" font-size="8" text-anchor="middle" fill="#222" stroke="#222" stroke-width="0.22" textLength="78" lengthAdjust="spacingAndGlyphs" >Proteasome inhibitors</text>
<text x="305.60" y="477.30" font-size="8" text-anchor="middle" fill="#222" stroke="#222" stroke-width="0.22" textLength="54" lengthAdjust="spacingAndGlyphs" >Glucocorticoid</text>
<rect x="224.30" y="338.10" width="9.00" height="2.90" fill="#5e3614" />
<text x="235.50" y="341.70" font-size="6" text-anchor="start" fill="#333" stroke="#333" stroke-width="0.22" textLength="21.5" lengthAdjust="spacingAndGlyphs" >KMS27</text>
<rect x="261.70" y="338.10" width="8.80" height="2.90" fill="#cc7826" />
<text x="272.50" y="341.70" font-size="6" text-anchor="start" fill="#333" stroke="#333" stroke-width="0.22" textLength="45" lengthAdjust="spacingAndGlyphs" >Resistant clones</text>
<text x="355.00" y="161.00" font-size="11.8" text-anchor="start" fill="#000" font-weight="bold" >B</text>
<text x="422.5" y="167.5" font-size="8.6" fill="#222"><tspan fill="#2c7b63">KMS-12PE</tspan> IC<tspan font-size="6.2" dy="2" dx="0.4">50</tspan></text>
<text x="453.00" y="177.50" font-size="8.2" text-anchor="middle" fill="#222" stroke="#222" stroke-width="0.22" >Ratio to Parental</text>
<rect x="405.00" y="195.60" width="19.00" height="15.10" fill="#ffffff" />
<text x="414.50" y="205.15" font-size="6.2" text-anchor="middle" fill="#333" stroke="#333" stroke-width="0.22" >1.00</text>
<rect x="424.00" y="195.60" width="19.00" height="15.10" fill="#fef2f2" />
<text x="433.50" y="205.15" font-size="6.2" text-anchor="middle" fill="#333" stroke="#333" stroke-width="0.22" >1.22</text>
<rect x="443.00" y="195.60" width="19.00" height="15.10" fill="#fce5e5" />
<text x="452.50" y="205.15" font-size="6.2" text-anchor="middle" fill="#333" stroke="#333" stroke-width="0.22" >1.38</text>
<rect x="462.00" y="195.60" width="19.00" height="15.10" fill="#fde7e7" />
<text x="471.50" y="205.15" font-size="6.2" text-anchor="middle" fill="#333" stroke="#333" stroke-width="0.22" >1.36</text>
<rect x="481.00" y="195.60" width="19.00" height="15.10" fill="#fef3f3" />
<text x="490.50" y="205.15" font-size="6.2" text-anchor="middle" fill="#333" stroke="#333" stroke-width="0.22" >1.20</text>
<rect x="405.00" y="210.70" width="19.00" height="15.10" fill="#ffffff" />
<text x="414.50" y="220.25" font-size="6.2" text-anchor="middle" fill="#333" stroke="#333" stroke-width="0.22" >1.00</text>
<rect x="424.00" y="210.70" width="19.00" height="15.10" fill="#ef6363" />
<text x="433.50" y="220.25" font-size="6.2" text-anchor="middle" fill="#fff" >3.49</text>
<rect x="443.00" y="210.70" width="19.00" height="15.10" fill="#f6a7a7" />
<text x="452.50" y="220.25" font-size="6.2" text-anchor="middle" fill="#333" stroke="#333" stroke-width="0.22" >2.31</text>
<rect x="462.00" y="210.70" width="19.00" height="15.10" fill="#fce4e4" />
<text x="471.50" y="220.25" font-size="6.2" text-anchor="middle" fill="#333" stroke="#333" stroke-width="0.22" >1.40</text>
<rect x="481.00" y="210.70" width="19.00" height="15.10" fill="#f28282" />
<text x="490.50" y="220.25" font-size="6.2" text-anchor="middle" fill="#333" stroke="#333" stroke-width="0.22" >2.84</text>
<rect x="405.00" y="225.80" width="19.00" height="15.10" fill="#ffffff" />
<text x="414.50" y="235.35" font-size="6.2" text-anchor="middle" fill="#333" stroke="#333" stroke-width="0.22" >1.00</text>
<rect x="424.00" y="225.80" width="19.00" height="15.10" fill="#facece" />
<text x="433.50" y="235.35" font-size="6.2" text-anchor="middle" fill="#333" stroke="#333" stroke-width="0.22" >1.75</text>
<rect x="443.00" y="225.80" width="19.00" height="15.10" fill="#fbd8d8" />
<text x="452.50" y="235.35" font-size="6.2" text-anchor="middle" fill="#333" stroke="#333" stroke-width="0.22" >1.57</text>
<rect x="462.00" y="225.80" width="19.00" height="15.10" fill="#fcdede" />
<text x="471.50" y="235.35" font-size="6.2" text-anchor="middle" fill="#333" stroke="#333" stroke-width="0.22" >1.47</text>
<rect x="481.00" y="225.80" width="19.00" height="15.10" fill="#fad2d2" />
<text x="490.50" y="235.35" font-size="6.2" text-anchor="middle" fill="#333" stroke="#333" stroke-width="0.22" >1.69</text>
<rect x="405.00" y="240.90" width="19.00" height="15.10" fill="#ffffff" />
<text x="414.50" y="250.45" font-size="6.2" text-anchor="middle" fill="#333" stroke="#333" stroke-width="0.22" >1.00</text>
<rect x="424.00" y="240.90" width="19.00" height="15.10" fill="#f38686" />
<text x="433.50" y="250.45" font-size="6.2" text-anchor="middle" fill="#333" stroke="#333" stroke-width="0.22" >2.77</text>
<rect x="443.00" y="240.90" width="19.00" height="15.10" fill="#fad1d1" />
<text x="452.50" y="250.45" font-size="6.2" text-anchor="middle" fill="#333" stroke="#333" stroke-width="0.22" >1.70</text>
<rect x="462.00" y="240.90" width="19.00" height="15.10" fill="#facbcb" />
<text x="471.50" y="250.45" font-size="6.2" text-anchor="middle" fill="#333" stroke="#333" stroke-width="0.22" >1.81</text>
<rect x="481.00" y="240.90" width="19.00" height="15.10" fill="#fef6f6" />
<text x="490.50" y="250.45" font-size="6.2" text-anchor="middle" fill="#333" stroke="#333" stroke-width="0.22" >1.16</text>
<rect x="405.00" y="256.00" width="19.00" height="15.10" fill="#ffffff" />
<text x="414.50" y="265.55" font-size="6.2" text-anchor="middle" fill="#333" stroke="#333" stroke-width="0.22" >1.00</text>
<rect x="424.00" y="256.00" width="19.00" height="15.10" fill="#fef6f6" />
<text x="433.50" y="265.55" font-size="6.2" text-anchor="middle" fill="#333" stroke="#333" stroke-width="0.22" >1.15</text>
<rect x="443.00" y="256.00" width="19.00" height="15.10" fill="#fbd7d7" />
<text x="452.50" y="265.55" font-size="6.2" text-anchor="middle" fill="#333" stroke="#333" stroke-width="0.22" >1.59</text>
<rect x="462.00" y="256.00" width="19.00" height="15.10" fill="#fcdede" />
<text x="471.50" y="265.55" font-size="6.2" text-anchor="middle" fill="#333" stroke="#333" stroke-width="0.22" >1.47</text>
<rect x="481.00" y="256.00" width="19.00" height="15.10" fill="#fbd6d6" />
<text x="490.50" y="265.55" font-size="6.2" text-anchor="middle" fill="#333" stroke="#333" stroke-width="0.22" >1.60</text>
<rect x="405.00" y="271.10" width="19.00" height="15.10" fill="#ffffff" />
<text x="414.50" y="280.65" font-size="6.2" text-anchor="middle" fill="#333" stroke="#333" stroke-width="0.22" >1.00</text>
<rect x="424.00" y="271.10" width="19.00" height="15.10" fill="#fce5e5" />
<text x="433.50" y="280.65" font-size="6.2" text-anchor="middle" fill="#333" stroke="#333" stroke-width="0.22" >1.38</text>
<rect x="443.00" y="271.10" width="19.00" height="15.10" fill="#f8bdbd" />
<text x="452.50" y="280.65" font-size="6.2" text-anchor="middle" fill="#333" stroke="#333" stroke-width="0.22" >2.02</text>
<rect x="462.00" y="271.10" width="19.00" height="15.10" fill="#fad0d0" />
<text x="471.50" y="280.65" font-size="6.2" text-anchor="middle" fill="#333" stroke="#333" stroke-width="0.22" >1.72</text>
<rect x="481.00" y="271.10" width="19.00" height="15.10" fill="#ec4949" />
<text x="490.50" y="280.65" font-size="6.2" text-anchor="middle" fill="#fff" >4.52</text>
<rect x="405.00" y="286.20" width="19.00" height="15.10" fill="#ffffff" />
<text x="414.50" y="295.75" font-size="6.2" text-anchor="middle" fill="#333" stroke="#333" stroke-width="0.22" >1.00</text>
<rect x="424.00" y="286.20" width="19.00" height="15.10" fill="#ec4444" />
<text x="433.50" y="295.75" font-size="6.2" text-anchor="middle" fill="#fff" >6.38</text>
<rect x="443.00" y="286.20" width="19.00" height="15.10" fill="#f59d9d" />
<text x="452.50" y="295.75" font-size="6.2" text-anchor="middle" fill="#333" stroke="#333" stroke-width="0.22" >2.44</text>
<rect x="462.00" y="286.20" width="19.00" height="15.10" fill="#ec4444" />
<text x="471.50" y="295.75" font-size="6.2" text-anchor="middle" fill="#fff" >12.46</text>
<rect x="481.00" y="286.20" width="19.00" height="15.10" fill="#ec4444" />
<text x="490.50" y="295.75" font-size="6.2" text-anchor="middle" fill="#fff" >26.56</text>
<rect x="405.00" y="195.60" width="95.00" height="105.70" fill="none" stroke="#555" stroke-width="0.9"/>
<line x1="414.50" y1="193.10" x2="414.50" y2="195.60" stroke="#333" stroke-width="0.8" />
<text x="414.50" y="188.00" font-size="5.9" text-anchor="middle" fill="#333" stroke="#333" stroke-width="0.22" >Parental</text>
<line x1="433.50" y1="193.10" x2="433.50" y2="195.60" stroke="#333" stroke-width="0.8" />
<text x="433.50" y="188.00" font-size="5.9" text-anchor="middle" fill="#333" stroke="#333" stroke-width="0.22" >12A</text>
<line x1="452.50" y1="193.10" x2="452.50" y2="195.60" stroke="#333" stroke-width="0.8" />
<text x="452.50" y="188.00" font-size="5.9" text-anchor="middle" fill="#333" stroke="#333" stroke-width="0.22" >12B</text>
<line x1="471.50" y1="193.10" x2="471.50" y2="195.60" stroke="#333" stroke-width="0.8" />
<text x="471.50" y="188.00" font-size="5.9" text-anchor="middle" fill="#333" stroke="#333" stroke-width="0.22" >12C</text>
<line x1="490.50" y1="193.10" x2="490.50" y2="195.60" stroke="#333" stroke-width="0.8" />
<text x="490.50" y="188.00" font-size="5.9" text-anchor="middle" fill="#333" stroke="#333" stroke-width="0.22" >12D</text>
<line x1="402.00" y1="203.15" x2="405.00" y2="203.15" stroke="#333" stroke-width="0.9" />
<text x="398.70" y="205.25" font-size="6.0" text-anchor="end" fill="#333" stroke="#333" stroke-width="0.22" >Bendamustine</text>
<line x1="402.00" y1="218.25" x2="405.00" y2="218.25" stroke="#333" stroke-width="0.9" />
<text x="398.70" y="220.35" font-size="6.0" text-anchor="end" fill="#333" stroke="#333" stroke-width="0.22" >Melphalan</text>
<line x1="402.00" y1="233.35" x2="405.00" y2="233.35" stroke="#333" stroke-width="0.9" />
<text x="398.70" y="235.45" font-size="6.0" text-anchor="end" fill="#333" stroke="#333" stroke-width="0.22" >Bortezomib</text>
<line x1="402.00" y1="248.45" x2="405.00" y2="248.45" stroke="#333" stroke-width="0.9" />
<text x="398.70" y="250.55" font-size="6.0" text-anchor="end" fill="#333" stroke="#333" stroke-width="0.22" >Carfilzomib</text>
<line x1="402.00" y1="263.55" x2="405.00" y2="263.55" stroke="#333" stroke-width="0.9" />
<text x="398.70" y="265.65" font-size="6.0" text-anchor="end" fill="#333" stroke="#333" stroke-width="0.22" >Lenalidomide</text>
<line x1="402.00" y1="278.65" x2="405.00" y2="278.65" stroke="#333" stroke-width="0.9" />
<text x="398.70" y="280.75" font-size="6.0" text-anchor="end" fill="#333" stroke="#333" stroke-width="0.22" >Pomalidomide</text>
<line x1="402.00" y1="293.75" x2="405.00" y2="293.75" stroke="#333" stroke-width="0.9" />
<text x="398.70" y="295.85" font-size="6.0" text-anchor="end" fill="#333" stroke="#333" stroke-width="0.22" >Dexamethasone</text>
<defs><linearGradient id="gB" x1="0" y1="1" x2="0" y2="0"><stop offset="0.000" stop-color="#646cb4"/><stop offset="0.050" stop-color="#8b91c7"/><stop offset="0.100" stop-color="#b2b6da"/><stop offset="0.150" stop-color="#d8daec"/><stop offset="0.200" stop-color="#ffffff"/><stop offset="0.240" stop-color="#fef3f3"/><stop offset="0.280" stop-color="#fce4e4"/><stop offset="0.350" stop-color="#facece"/><stop offset="0.400" stop-color="#f8bfbf"/><stop offset="0.460" stop-color="#f6a7a7"/><stop offset="0.560" stop-color="#f28484"/><stop offset="0.700" stop-color="#ef6363"/><stop offset="0.900" stop-color="#ec4a4a"/><stop offset="1.000" stop-color="#ec4444"/></linearGradient></defs>
<rect x="502.30" y="195.80" width="4.40" height="105.20" fill="url(#gB)" stroke="#444" stroke-width="0.8"/>
<line x1="505.50" y1="301.00" x2="507.50" y2="301.00" stroke="#333" stroke-width="0.6" />
<text x="510.30" y="303.20" font-size="6" text-anchor="start" fill="#333" stroke="#333" stroke-width="0.22" >0</text>
<line x1="505.50" y1="279.96" x2="507.50" y2="279.96" stroke="#333" stroke-width="0.6" />
<text x="510.30" y="282.16" font-size="6" text-anchor="start" fill="#333" stroke="#333" stroke-width="0.22" >1</text>
<line x1="505.50" y1="258.92" x2="507.50" y2="258.92" stroke="#333" stroke-width="0.6" />
<text x="510.30" y="261.12" font-size="6" text-anchor="start" fill="#333" stroke="#333" stroke-width="0.22" >2</text>
<line x1="505.50" y1="237.88" x2="507.50" y2="237.88" stroke="#333" stroke-width="0.6" />
<text x="510.30" y="240.08" font-size="6" text-anchor="start" fill="#333" stroke="#333" stroke-width="0.22" >3</text>
<line x1="505.50" y1="216.84" x2="507.50" y2="216.84" stroke="#333" stroke-width="0.6" />
<text x="510.30" y="219.04" font-size="6" text-anchor="start" fill="#333" stroke="#333" stroke-width="0.22" >4</text>
<line x1="505.50" y1="195.80" x2="507.50" y2="195.80" stroke="#333" stroke-width="0.6" />
<text x="510.30" y="198.00" font-size="6" text-anchor="start" fill="#333" stroke="#333" stroke-width="0.22" >5</text>
<text x="355.40" y="462.30" font-size="11.8" text-anchor="start" fill="#000" font-weight="bold" >D</text>
<text x="421.3" y="471.7" font-size="8.6" fill="#222"><tspan fill="#80573a">KMS27</tspan> IC<tspan font-size="6.2" dy="2" dx="0.4">50</tspan></text>
<text x="443.80" y="482.60" font-size="8.2" text-anchor="middle" fill="#222" stroke="#222" stroke-width="0.22" >Ratio to Parental</text>
<rect x="406.50" y="500.30" width="25.50" height="15.00" fill="#ffffff" />
<text x="419.25" y="509.80" font-size="6.2" text-anchor="middle" fill="#333" stroke="#333" stroke-width="0.22" >1.00</text>
<rect x="432.00" y="500.30" width="25.50" height="15.00" fill="#ef5f5f" />
<text x="444.75" y="509.80" font-size="6.2" text-anchor="middle" fill="#fff" >3.65</text>
<rect x="457.50" y="500.30" width="25.50" height="15.00" fill="#f17474" />
<text x="470.25" y="509.80" font-size="6.2" text-anchor="middle" fill="#333" stroke="#333" stroke-width="0.22" >3.14</text>
<rect x="406.50" y="515.30" width="25.50" height="15.00" fill="#ffffff" />
<text x="419.25" y="524.80" font-size="6.2" text-anchor="middle" fill="#333" stroke="#333" stroke-width="0.22" >1.00</text>
<rect x="432.00" y="515.30" width="25.50" height="15.00" fill="#ee5757" />
<text x="444.75" y="524.80" font-size="6.2" text-anchor="middle" fill="#fff" >3.99</text>
<rect x="457.50" y="515.30" width="25.50" height="15.00" fill="#ec4444" />
<text x="470.25" y="524.80" font-size="6.2" text-anchor="middle" fill="#fff" >14.99</text>
<rect x="406.50" y="530.30" width="25.50" height="15.00" fill="#ffffff" />
<text x="419.25" y="539.80" font-size="6.2" text-anchor="middle" fill="#333" stroke="#333" stroke-width="0.22" >1.00</text>
<rect x="432.00" y="530.30" width="25.50" height="15.00" fill="#f9c9c9" />
<text x="444.75" y="539.80" font-size="6.2" text-anchor="middle" fill="#333" stroke="#333" stroke-width="0.22" >1.83</text>
<rect x="457.50" y="530.30" width="25.50" height="15.00" fill="#fce5e5" />
<text x="470.25" y="539.80" font-size="6.2" text-anchor="middle" fill="#333" stroke="#333" stroke-width="0.22" >1.38</text>
<rect x="406.50" y="545.30" width="25.50" height="15.00" fill="#ffffff" />
<text x="419.25" y="554.80" font-size="6.2" text-anchor="middle" fill="#333" stroke="#333" stroke-width="0.22" >1.00</text>
<rect x="432.00" y="545.30" width="25.50" height="15.00" fill="#f8bcbc" />
<text x="444.75" y="554.80" font-size="6.2" text-anchor="middle" fill="#333" stroke="#333" stroke-width="0.22" >2.03</text>
<rect x="457.50" y="545.30" width="25.50" height="15.00" fill="#fbdada" />
<text x="470.25" y="554.80" font-size="6.2" text-anchor="middle" fill="#333" stroke="#333" stroke-width="0.22" >1.53</text>
<rect x="406.50" y="560.30" width="25.50" height="15.00" fill="#ffffff" />
<text x="419.25" y="569.80" font-size="6.2" text-anchor="middle" fill="#333" stroke="#333" stroke-width="0.22" >1.00</text>
<rect x="432.00" y="560.30" width="25.50" height="15.00" fill="#fef8f8" />
<text x="444.75" y="569.80" font-size="6.2" text-anchor="middle" fill="#333" stroke="#333" stroke-width="0.22" >1.12</text>
<rect x="457.50" y="560.30" width="25.50" height="15.00" fill="#ec4646" />
<text x="470.25" y="569.80" font-size="6.2" text-anchor="middle" fill="#fff" >47.34</text>
<rect x="406.50" y="575.30" width="25.50" height="15.00" fill="#ffffff" />
<text x="419.25" y="584.80" font-size="6.2" text-anchor="middle" fill="#333" stroke="#333" stroke-width="0.22" >1.00</text>
<rect x="432.00" y="575.30" width="25.50" height="15.00" fill="#ffffff" />
<text x="444.75" y="584.80" font-size="6.2" text-anchor="middle" fill="#333" stroke="#333" stroke-width="0.22" >1.00</text>
<rect x="457.50" y="575.30" width="25.50" height="15.00" fill="#e92525" />
<text x="470.25" y="584.80" font-size="6.2" text-anchor="middle" fill="#fff" >&gt;50</text>
<rect x="406.50" y="590.30" width="25.50" height="15.00" fill="#ffffff" />
<text x="419.25" y="599.80" font-size="6.2" text-anchor="middle" fill="#333" stroke="#333" stroke-width="0.22" >1.00</text>
<rect x="432.00" y="590.30" width="25.50" height="15.00" fill="#fdeded" />
<text x="444.75" y="599.80" font-size="6.2" text-anchor="middle" fill="#333" stroke="#333" stroke-width="0.22" >1.28</text>
<rect x="457.50" y="590.30" width="25.50" height="15.00" fill="#e92525" />
<text x="470.25" y="599.80" font-size="6.2" text-anchor="middle" fill="#fff" >&gt;50</text>
<rect x="406.50" y="500.30" width="76.50" height="105.00" fill="none" stroke="#555" stroke-width="0.9"/>
<line x1="419.25" y1="497.80" x2="419.25" y2="500.30" stroke="#333" stroke-width="0.8" />
<text x="419.25" y="492.70" font-size="5.9" text-anchor="middle" fill="#333" stroke="#333" stroke-width="0.22" >Parental</text>
<line x1="444.75" y1="497.80" x2="444.75" y2="500.30" stroke="#333" stroke-width="0.8" />
<text x="444.75" y="492.70" font-size="5.9" text-anchor="middle" fill="#333" stroke="#333" stroke-width="0.22" >27B</text>
<line x1="470.25" y1="497.80" x2="470.25" y2="500.30" stroke="#333" stroke-width="0.8" />
<text x="470.25" y="492.70" font-size="5.9" text-anchor="middle" fill="#333" stroke="#333" stroke-width="0.22" >27D</text>
<line x1="403.50" y1="507.80" x2="406.50" y2="507.80" stroke="#333" stroke-width="0.9" />
<text x="400.20" y="509.90" font-size="6.0" text-anchor="end" fill="#333" stroke="#333" stroke-width="0.22" >Bendamustine</text>
<line x1="403.50" y1="522.80" x2="406.50" y2="522.80" stroke="#333" stroke-width="0.9" />
<text x="400.20" y="524.90" font-size="6.0" text-anchor="end" fill="#333" stroke="#333" stroke-width="0.22" >Melphalan</text>
<line x1="403.50" y1="537.80" x2="406.50" y2="537.80" stroke="#333" stroke-width="0.9" />
<text x="400.20" y="539.90" font-size="6.0" text-anchor="end" fill="#333" stroke="#333" stroke-width="0.22" >Bortezomib</text>
<line x1="403.50" y1="552.80" x2="406.50" y2="552.80" stroke="#333" stroke-width="0.9" />
<text x="400.20" y="554.90" font-size="6.0" text-anchor="end" fill="#333" stroke="#333" stroke-width="0.22" >Carfilzomib</text>
<line x1="403.50" y1="567.80" x2="406.50" y2="567.80" stroke="#333" stroke-width="0.9" />
<text x="400.20" y="569.90" font-size="6.0" text-anchor="end" fill="#333" stroke="#333" stroke-width="0.22" >Lenalidomide</text>
<line x1="403.50" y1="582.80" x2="406.50" y2="582.80" stroke="#333" stroke-width="0.9" />
<text x="400.20" y="584.90" font-size="6.0" text-anchor="end" fill="#333" stroke="#333" stroke-width="0.22" >Pomalidomide</text>
<line x1="403.50" y1="597.80" x2="406.50" y2="597.80" stroke="#333" stroke-width="0.9" />
<text x="400.20" y="599.90" font-size="6.0" text-anchor="end" fill="#333" stroke="#333" stroke-width="0.22" >Dexamethasone</text>
<defs><linearGradient id="gD" x1="0" y1="1" x2="0" y2="0"><stop offset="0.000" stop-color="#646cb4"/><stop offset="0.050" stop-color="#8b91c7"/><stop offset="0.100" stop-color="#b2b6da"/><stop offset="0.150" stop-color="#d8daec"/><stop offset="0.200" stop-color="#ffffff"/><stop offset="0.240" stop-color="#fef3f3"/><stop offset="0.280" stop-color="#fce4e4"/><stop offset="0.350" stop-color="#facece"/><stop offset="0.400" stop-color="#f8bfbf"/><stop offset="0.460" stop-color="#f6a7a7"/><stop offset="0.560" stop-color="#f28484"/><stop offset="0.700" stop-color="#ef6363"/><stop offset="0.900" stop-color="#ec4a4a"/><stop offset="1.000" stop-color="#ec4444"/></linearGradient></defs>
<rect x="492.60" y="500.30" width="5.00" height="105.20" fill="url(#gD)" stroke="#444" stroke-width="0.8"/>
<line x1="496.40" y1="605.50" x2="498.40" y2="605.50" stroke="#333" stroke-width="0.6" />
<text x="501.20" y="607.70" font-size="6" text-anchor="start" fill="#333" stroke="#333" stroke-width="0.22" >0</text>
<line x1="496.40" y1="584.46" x2="498.40" y2="584.46" stroke="#333" stroke-width="0.6" />
<text x="501.20" y="586.66" font-size="6" text-anchor="start" fill="#333" stroke="#333" stroke-width="0.22" >1</text>
<line x1="496.40" y1="563.42" x2="498.40" y2="563.42" stroke="#333" stroke-width="0.6" />
<text x="501.20" y="565.62" font-size="6" text-anchor="start" fill="#333" stroke="#333" stroke-width="0.22" >2</text>
<line x1="496.40" y1="542.38" x2="498.40" y2="542.38" stroke="#333" stroke-width="0.6" />
<text x="501.20" y="544.58" font-size="6" text-anchor="start" fill="#333" stroke="#333" stroke-width="0.22" >3</text>
<line x1="496.40" y1="521.34" x2="498.40" y2="521.34" stroke="#333" stroke-width="0.6" />
<text x="501.20" y="523.54" font-size="6" text-anchor="start" fill="#333" stroke="#333" stroke-width="0.22" >4</text>
<line x1="496.40" y1="500.30" x2="498.40" y2="500.30" stroke="#333" stroke-width="0.6" />
<text x="501.20" y="502.50" font-size="6" text-anchor="start" fill="#333" stroke="#333" stroke-width="0.22" >5</text>
<rect x="0.5" y="0.5" width="519" height="615" fill="none" stroke="#5c5c5c" stroke-width="1.2"/>
</svg>
</body></html>
